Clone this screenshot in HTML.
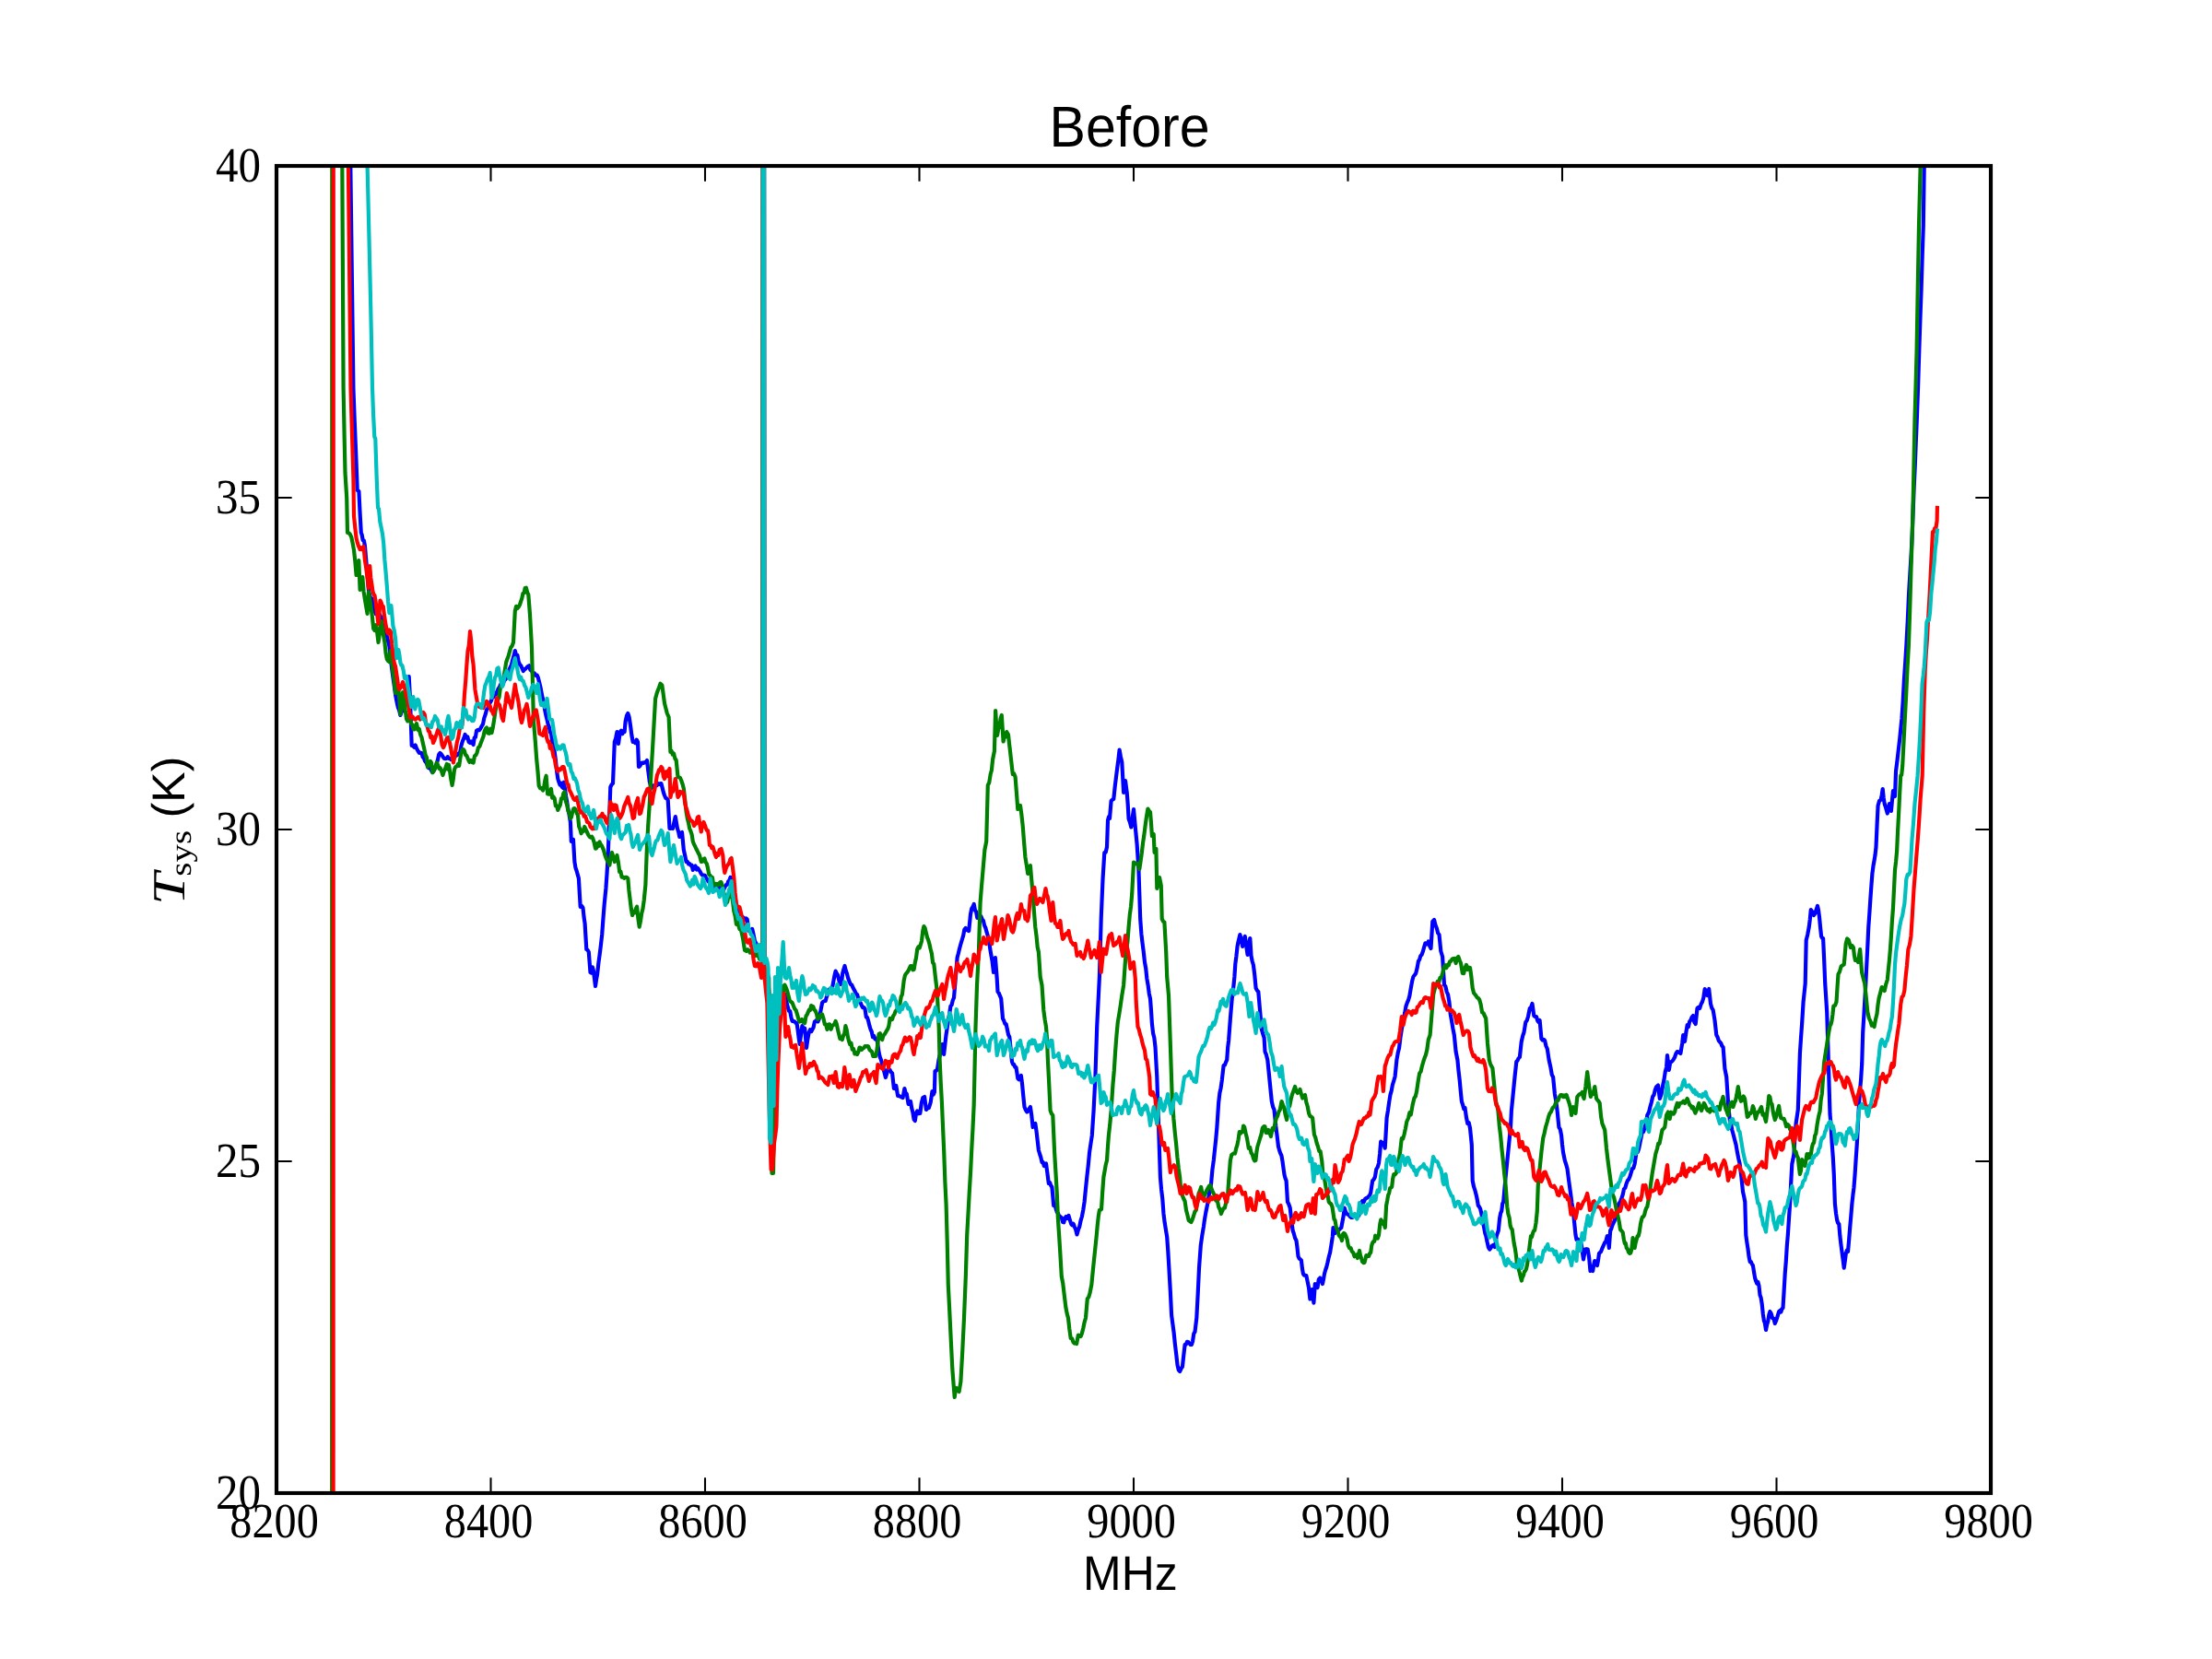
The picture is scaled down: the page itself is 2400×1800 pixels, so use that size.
<!DOCTYPE html>
<html><head><meta charset="utf-8"><style>
html,body{margin:0;padding:0;background:#fff;-webkit-font-smoothing:antialiased;}
text{text-rendering:geometricPrecision;}
body{width:2400px;height:1800px;overflow:hidden;}
svg{display:block;}
.serif{font-family:"Liberation Serif",serif;}
.sans{font-family:"Liberation Sans",sans-serif;}
</style></head><body>
<svg width="2400" height="1800" viewBox="0 0 2400 1800">
<rect x="0" y="0" width="2400" height="1800" fill="#fff"/>
<defs><clipPath id="ax"><rect x="300" y="180" width="1860" height="1440"/></clipPath></defs>

<g clip-path="url(#ax)" fill="none" stroke-width="4.17" stroke-linejoin="round" stroke-linecap="square">
<polyline stroke="#0000ff" points="361.0,1700.0 361.2,100.0 380.2,100.0 380.3,180.0 383.4,421.0 384.8,458.7 386.3,494.9 387.7,532.0 389.4,533.0 390.6,557.2 391.8,578.0 392.6,580.0 393.7,586.0 394.8,586.4 395.9,592.0 397.2,607.6 398.6,622.7 399.9,640.0 401.2,646.3 402.5,649.4 403.9,649.5 405.2,657.1 406.5,663.0 407.8,666.1 409.2,665.5 410.5,666.3 411.8,666.6 413.2,669.4 414.5,670.0 415.8,676.1 417.1,679.6 418.4,686.3 419.8,690.5 421.1,695.7 422.4,701.0 423.7,712.8 425.1,725.1 426.4,734.8 427.8,744.2 429.1,754.0 430.4,760.9 431.8,767.4 433.1,770.5 434.4,776.0 435.8,772.0 437.2,771.4 438.6,769.6 440.0,765.0 441.2,756.1 442.5,744.3 443.7,734.0 445.0,759.0 446.7,809.0 448.0,808.9 449.4,810.7 450.7,808.5 452.0,812.0 453.4,814.6 454.8,816.8 456.1,816.7 457.5,817.0 458.7,821.4 459.9,822.6 461.1,825.9 462.4,827.3 463.6,829.9 464.8,833.0 466.1,833.5 467.4,834.4 468.7,837.3 470.0,837.0 471.2,835.4 472.5,831.6 473.7,828.7 474.9,824.6 476.2,818.5 477.4,817.0 478.5,817.9 479.7,819.7 480.9,821.5 482.0,823.0 483.2,823.2 484.5,822.9 485.7,821.1 486.9,822.9 488.2,823.0 489.4,824.1 490.7,822.2 491.9,822.0 493.1,822.2 494.3,819.7 495.4,819.7 496.6,818.8 497.8,817.2 499.0,817.0 500.4,809.3 501.8,804.4 503.2,801.2 504.6,797.0 506.0,800.6 507.3,799.4 508.6,805.1 510.0,806.0 511.2,804.5 512.4,805.9 513.6,808.0 514.7,800.4 515.9,799.9 517.0,793.0 518.4,791.9 519.8,792.3 521.2,790.6 522.6,788.0 524.0,785.6 525.3,779.1 526.6,775.4 528.0,770.0 529.3,768.5 530.6,764.5 531.9,762.0 533.1,760.2 534.4,754.3 535.7,756.0 537.0,752.0 538.2,753.3 539.4,750.3 540.6,747.2 541.9,745.6 543.1,742.7 544.3,744.0 545.7,742.1 547.0,738.6 548.4,737.1 549.8,735.0 551.1,731.3 552.4,726.6 553.7,723.9 555.0,721.0 556.3,715.6 557.5,711.7 558.8,706.0 560.1,711.0 561.4,710.9 562.7,718.2 564.0,721.0 565.3,722.4 566.5,725.2 567.8,728.0 569.1,726.4 570.4,725.5 571.7,724.0 573.0,723.0 574.1,722.3 575.3,726.8 576.4,726.5 577.6,729.5 578.7,732.0 580.0,730.5 581.4,732.8 582.7,732.5 583.9,735.4 585.1,740.3 586.3,745.0 587.5,751.4 588.7,757.3 590.0,762.0 591.2,770.4 592.4,776.3 593.6,781.0 594.7,786.0 595.8,788.8 596.9,794.4 598.0,796.0 599.2,804.2 600.5,808.6 601.7,816.0 602.9,824.7 604.1,836.6 605.3,845.0 606.4,848.6 607.5,851.5 608.7,849.6 609.8,854.0 610.9,854.9 611.9,848.7 613.0,856.0 614.1,864.0 615.1,869.6 616.2,877.0 617.5,883.4 618.9,892.0 619.8,913.0 620.9,911.4 622.0,911.0 623.4,935.0 624.5,941.6 625.6,944.8 626.8,949.1 627.9,953.0 629.7,984.0 631.1,982.9 632.5,985.0 633.5,994.6 634.6,1002.0 636.3,1030.0 637.5,1030.7 638.8,1033.0 640.5,1055.0 641.6,1055.6 642.8,1049.3 643.9,1053.0 645.0,1062.0 646.0,1070.0 647.0,1062.9 648.1,1057.0 649.4,1044.8 650.6,1036.0 651.9,1025.5 653.2,1014.0 654.5,996.1 655.7,981.0 657.4,964.0 658.5,948.2 659.6,931.0 661.0,892.3 662.3,854.0 663.6,851.3 665.0,850.0 666.8,805.0 668.1,801.2 669.5,794.0 671.0,807.0 672.0,799.8 673.0,794.0 674.1,792.6 675.3,796.2 676.5,793.2 677.6,794.0 678.6,783.0 680.0,776.4 681.3,774.0 682.6,777.9 684.0,787.0 685.4,798.0 686.7,805.0 688.0,804.9 689.4,806.2 690.7,802.6 692.0,805.0 693.0,832.0 694.5,830.8 696.0,828.0 697.1,827.5 698.2,828.0 699.3,827.0 700.6,827.2 702.0,825.0 703.4,837.3 704.8,848.0 706.6,855.0 707.8,854.6 709.0,852.4 710.2,852.2 711.4,851.8 712.6,852.2 713.8,850.0 715.0,851.0 716.2,850.3 717.4,850.0 718.6,854.6 719.8,859.5 721.0,863.0 722.2,865.8 723.5,866.4 724.7,868.0 726.5,899.0 727.7,898.9 728.8,898.3 730.0,899.0 731.4,892.2 732.8,886.0 733.9,892.7 735.0,899.0 736.1,902.4 737.3,908.0 738.6,903.8 740.0,903.0 741.8,922.0 743.2,928.3 744.6,935.0 745.8,934.8 747.0,937.4 748.2,937.0 749.4,938.9 750.6,938.7 751.8,944.0 753.1,941.1 754.5,939.5 755.9,943.5 757.2,942.0 758.4,943.8 759.6,945.6 760.8,948.0 762.2,949.8 763.5,949.5 764.9,949.7 766.3,953.0 767.4,954.0 768.6,956.6 769.7,956.8 770.9,957.6 772.0,958.0 773.2,959.9 774.4,960.3 775.6,962.6 776.8,962.2 778.0,962.0 779.2,966.0 780.4,962.9 781.6,964.3 782.8,964.2 784.0,965.0 785.2,965.5 786.5,962.4 787.8,960.0 789.0,960.0 790.1,956.4 791.3,955.5 792.5,951.8 793.6,952.0 794.9,960.5 796.1,965.8 797.4,973.6 798.6,980.6 799.9,988.0 801.1,991.6 802.3,992.2 803.5,997.0 804.7,996.9 805.9,995.0 807.1,996.0 808.3,998.0 809.5,996.4 810.7,997.5 812.5,1010.0 813.7,1009.3 815.0,1011.5 816.2,1008.0 817.5,1013.7 818.9,1021.0 820.3,1023.6 821.6,1028.3 823.0,1030.0 824.4,1028.2 825.9,1027.4 827.3,1025.0 827.8,100.0 829.0,100.0 829.4,1040.0 830.7,1041.5 832.0,1045.0 833.2,1058.7 834.5,1080.0 836.2,1250.0 837.2,1249.0 838.2,1250.0 839.4,1199.4 840.5,1150.0 841.8,1125.9 843.0,1100.0 844.3,1094.1 845.7,1089.7 847.0,1085.0 848.5,1083.8 850.0,1082.0 851.1,1078.5 852.3,1079.0 853.3,1087.0 854.6,1092.0 856.0,1097.0 857.2,1097.1 858.4,1103.7 859.6,1108.0 861.0,1108.1 862.3,1108.5 863.4,1109.8 864.5,1110.0 865.6,1117.5 866.6,1125.6 867.7,1133.0 869.0,1123.1 870.4,1113.0 871.8,1116.1 873.2,1115.7 875.0,1137.0 876.3,1127.8 877.6,1120.5 879.0,1117.2 880.4,1119.0 881.5,1116.9 882.6,1114.7 883.8,1108.8 884.9,1108.0 886.1,1106.6 887.3,1108.5 888.5,1106.0 889.7,1100.4 890.9,1094.1 892.1,1088.0 893.3,1086.7 894.5,1086.0 895.7,1086.0 896.9,1081.5 898.1,1078.6 899.3,1073.5 900.5,1073.4 901.8,1072.2 903.0,1071.7 904.2,1065.3 905.4,1058.8 906.6,1053.6 907.8,1056.3 909.0,1058.0 910.5,1064.5 912.0,1068.0 913.1,1065.8 914.2,1056.1 915.4,1051.6 916.5,1048.0 917.7,1052.9 918.9,1056.3 920.1,1061.0 921.5,1064.9 922.9,1068.0 924.1,1068.4 925.3,1071.2 926.5,1073.5 927.7,1075.7 928.9,1078.4 930.1,1079.0 931.3,1083.5 932.5,1086.6 933.7,1088.0 934.9,1091.0 936.1,1093.2 937.3,1093.0 938.5,1094.7 939.8,1103.5 941.0,1104.0 942.2,1107.9 943.4,1112.9 944.6,1117.0 945.8,1119.5 947.0,1125.2 948.2,1124.0 949.4,1127.3 950.6,1127.4 951.8,1129.5 953.6,1142.0 954.8,1147.0 956.0,1150.0 957.2,1155.0 958.2,1157.2 959.1,1162.0 960.9,1169.0 962.1,1165.0 963.3,1160.0 964.5,1160.4 965.7,1161.1 966.9,1163.4 968.1,1164.5 969.9,1181.0 971.1,1181.2 972.3,1178.0 974.1,1189.0 975.7,1189.2 977.2,1190.0 978.4,1190.6 979.6,1191.0 981.4,1181.0 982.6,1185.8 983.8,1187.0 985.6,1198.0 986.8,1195.9 988.0,1195.0 989.2,1202.4 990.4,1207.0 991.6,1214.4 992.8,1216.0 994.0,1208.0 995.2,1205.5 996.8,1208.3 998.3,1208.0 999.8,1196.7 1001.3,1191.0 1003.1,1190.0 1004.9,1204.0 1006.4,1202.4 1007.9,1202.0 1009.7,1196.0 1011.5,1184.0 1012.7,1187.6 1013.9,1185.0 1014.5,1162.0 1015.8,1161.8 1017.0,1160.0 1018.5,1150.0 1019.8,1144.5 1021.0,1140.2 1022.3,1133.0 1024.1,1144.0 1025.3,1133.6 1026.5,1123.1 1027.7,1115.0 1028.9,1106.5 1030.2,1099.6 1031.4,1091.6 1032.6,1090.3 1033.8,1085.3 1035.0,1082.5 1036.8,1061.0 1038.6,1039.0 1039.8,1034.5 1041.0,1029.5 1042.2,1025.0 1044.0,1019.0 1045.2,1014.9 1046.4,1008.5 1047.6,1007.0 1048.8,1008.9 1050.0,1009.5 1051.2,1010.0 1053.0,992.0 1054.2,986.0 1055.5,984.0 1056.7,981.0 1057.9,987.5 1059.1,989.2 1060.3,996.0 1061.7,993.8 1063.0,996.8 1064.3,994.1 1065.7,997.5 1066.9,998.9 1068.1,1004.1 1069.3,1006.6 1070.5,1011.2 1071.8,1015.4 1073.0,1021.0 1074.5,1031.0 1075.5,1036.9 1076.6,1043.0 1078.0,1055.0 1079.0,1047.9 1079.9,1039.0 1081.7,1062.0 1082.5,1076.0 1083.7,1077.4 1085.0,1080.5 1086.2,1083.5 1088.0,1105.0 1089.2,1107.4 1090.4,1110.9 1091.6,1111.0 1092.8,1116.5 1094.1,1122.8 1095.3,1125.0 1096.7,1139.1 1098.0,1152.0 1099.1,1154.8 1100.2,1154.9 1101.4,1158.0 1102.5,1158.0 1104.3,1170.0 1105.5,1171.2 1106.7,1169.8 1107.9,1167.0 1109.1,1176.5 1110.3,1189.3 1111.5,1201.0 1112.8,1204.2 1114.2,1206.5 1115.4,1205.6 1116.7,1202.9 1117.9,1201.0 1119.2,1209.8 1120.6,1223.0 1121.9,1220.0 1123.3,1219.0 1124.5,1227.2 1125.7,1237.6 1126.9,1248.0 1128.1,1252.0 1129.3,1255.7 1130.5,1261.0 1131.6,1260.9 1132.8,1265.0 1133.9,1263.3 1135.0,1262.5 1136.4,1273.0 1137.8,1284.0 1139.0,1283.0 1140.2,1286.3 1141.4,1288.0 1143.2,1308.0 1144.4,1306.4 1145.6,1311.3 1146.8,1315.0 1148.0,1316.6 1149.2,1319.3 1150.4,1320.0 1151.8,1321.3 1153.1,1326.0 1154.3,1326.3 1155.5,1321.3 1156.7,1320.0 1158.1,1322.1 1159.5,1319.0 1160.8,1323.5 1162.2,1328.0 1163.4,1329.3 1164.6,1327.8 1165.8,1331.0 1167.2,1334.2 1168.5,1339.4 1169.8,1334.6 1171.2,1331.0 1172.6,1324.3 1173.9,1320.0 1175.2,1313.1 1176.6,1304.0 1177.9,1290.7 1179.3,1277.0 1180.7,1264.8 1182.1,1250.0 1183.4,1241.3 1184.8,1232.0 1186.6,1205.0 1188.4,1168.5 1190.2,1114.0 1192.0,1078.0 1192.9,1060.0 1194.7,997.0 1196.5,954.0 1198.3,925.0 1199.7,924.7 1201.0,919.0 1202.0,890.0 1203.0,886.2 1204.0,888.0 1205.6,869.0 1206.9,867.7 1208.3,867.0 1209.7,853.4 1211.0,843.0 1212.2,833.3 1213.4,824.3 1214.6,813.5 1215.9,820.9 1217.3,827.0 1219.1,860.0 1220.0,854.4 1221.0,847.0 1222.7,860.0 1223.7,872.6 1224.6,888.5 1225.9,892.0 1227.3,897.5 1228.7,887.4 1230.0,878.0 1231.8,897.5 1233.6,916.0 1235.4,943.0 1237.2,997.0 1238.4,1013.4 1239.6,1023.8 1240.8,1033.0 1242.0,1044.0 1243.2,1050.5 1244.4,1062.0 1245.6,1068.8 1246.8,1078.1 1248.0,1083.5 1249.0,1096.6 1249.9,1110.6 1251.1,1121.1 1252.3,1125.7 1253.5,1136.0 1255.3,1168.5 1257.1,1223.0 1258.9,1277.0 1260.1,1290.9 1261.3,1300.8 1262.5,1317.0 1263.7,1326.7 1265.0,1334.9 1266.2,1342.0 1267.3,1357.4 1268.4,1376.0 1269.8,1400.6 1271.1,1427.0 1272.3,1436.1 1273.6,1445.7 1274.8,1457.5 1276.2,1469.2 1277.5,1481.0 1278.8,1486.6 1280.2,1488.0 1281.6,1484.6 1282.9,1483.0 1284.2,1471.0 1285.6,1459.0 1286.8,1458.7 1288.0,1455.8 1289.2,1456.0 1290.4,1457.3 1291.6,1458.9 1292.8,1459.0 1294.0,1455.6 1295.3,1446.8 1296.5,1445.0 1298.3,1430.0 1299.7,1403.5 1301.0,1376.0 1302.8,1351.0 1304.3,1340.5 1305.9,1331.0 1307.1,1322.3 1308.3,1315.5 1309.5,1309.5 1310.7,1303.6 1311.8,1295.9 1312.9,1290.5 1314.1,1284.0 1315.4,1269.3 1316.8,1259.0 1318.0,1247.6 1319.2,1236.5 1320.4,1223.0 1322.2,1196.0 1323.4,1185.8 1324.6,1180.4 1325.8,1172.0 1327.6,1156.0 1328.8,1155.6 1330.0,1152.7 1331.2,1150.0 1332.2,1136.2 1333.1,1129.0 1334.9,1105.0 1336.7,1083.5 1338.1,1073.0 1339.4,1060.0 1340.3,1046.0 1341.4,1037.5 1342.5,1027.2 1343.6,1021.5 1345.4,1014.0 1346.8,1019.2 1348.1,1027.0 1349.4,1019.3 1350.8,1016.0 1352.2,1026.3 1353.6,1036.0 1354.9,1025.2 1356.3,1018.0 1357.5,1037.0 1358.7,1043.0 1359.9,1047.0 1361.2,1057.2 1362.6,1072.0 1363.9,1074.6 1365.3,1076.0 1367.1,1097.0 1368.9,1117.0 1370.2,1121.6 1371.6,1126.0 1372.5,1141.0 1373.9,1144.4 1375.3,1150.0 1376.7,1163.8 1378.0,1177.0 1379.8,1195.0 1381.2,1201.1 1382.5,1204.0 1384.3,1222.0 1385.7,1233.0 1387.0,1244.0 1388.1,1248.0 1389.2,1251.3 1390.4,1253.7 1391.5,1260.0 1392.5,1267.5 1393.6,1275.0 1394.6,1278.6 1395.6,1281.0 1397.0,1304.0 1398.3,1306.5 1399.7,1310.5 1400.7,1319.3 1401.7,1328.0 1402.7,1335.2 1403.7,1338.0 1405.1,1343.3 1406.5,1346.0 1407.5,1353.6 1408.5,1363.0 1409.6,1365.5 1410.8,1366.3 1411.9,1367.5 1412.9,1376.2 1413.9,1382.0 1415.0,1383.7 1416.2,1383.7 1417.3,1384.0 1418.7,1390.6 1420.0,1397.0 1421.4,1409.5 1422.4,1404.2 1423.4,1399.0 1424.4,1405.5 1425.4,1413.6 1426.8,1393.0 1428.2,1393.7 1429.5,1397.0 1430.8,1388.1 1432.2,1386.5 1433.6,1388.1 1434.9,1393.0 1436.0,1388.0 1437.0,1382.0 1438.1,1378.0 1439.3,1374.5 1440.4,1370.0 1441.8,1363.6 1443.1,1359.0 1444.4,1351.0 1445.8,1342.0 1446.5,1332.0 1447.5,1334.4 1448.5,1338.0 1449.8,1336.5 1451.2,1335.0 1452.6,1334.6 1453.9,1333.3 1455.3,1332.0 1456.6,1325.0 1457.7,1319.2 1458.7,1310.5 1459.7,1313.8 1460.7,1316.0 1462.1,1317.6 1463.4,1318.1 1464.8,1320.0 1466.2,1321.0 1467.5,1321.0 1468.8,1319.3 1470.2,1320.0 1471.6,1320.5 1472.9,1319.8 1474.3,1319.0 1475.7,1313.7 1477.0,1305.0 1478.3,1303.0 1479.7,1304.0 1481.1,1301.0 1482.4,1300.0 1483.8,1299.4 1485.1,1298.0 1486.2,1296.7 1487.2,1294.0 1488.2,1287.3 1489.2,1281.0 1490.6,1279.7 1491.9,1277.0 1493.3,1268.5 1494.7,1266.3 1496.0,1262.0 1497.1,1252.0 1498.2,1238.5 1500.0,1240.0 1501.3,1240.6 1502.7,1245.7 1503.7,1228.9 1504.6,1213.0 1505.9,1205.1 1507.3,1195.0 1508.5,1187.7 1509.7,1183.6 1510.9,1177.0 1512.2,1172.8 1513.6,1168.0 1515.4,1150.0 1516.8,1142.1 1518.1,1137.0 1519.4,1125.8 1520.8,1117.0 1522.0,1110.1 1523.1,1104.5 1524.2,1099.0 1525.4,1092.0 1526.8,1087.8 1528.1,1085.0 1529.4,1080.4 1530.8,1072.0 1532.2,1064.3 1533.5,1059.5 1534.8,1058.0 1536.2,1056.0 1537.6,1050.3 1538.9,1043.0 1540.1,1041.2 1541.3,1037.0 1542.5,1036.0 1543.9,1032.2 1545.3,1027.0 1546.4,1023.3 1547.5,1024.6 1548.7,1024.2 1549.8,1021.5 1551.2,1026.5 1552.5,1029.0 1554.3,1000.0 1556.1,998.0 1557.4,1003.6 1558.8,1007.0 1560.2,1012.5 1561.5,1014.0 1563.3,1032.0 1565.1,1038.0 1566.0,1053.6 1567.0,1068.5 1568.3,1070.0 1569.7,1076.0 1571.1,1079.3 1572.4,1087.0 1573.8,1100.8 1575.1,1108.0 1576.4,1115.9 1577.8,1123.0 1579.6,1141.0 1581.4,1150.0 1582.5,1161.6 1583.7,1171.9 1584.8,1184.1 1585.9,1195.0 1587.1,1198.6 1588.3,1203.2 1589.5,1202.0 1590.9,1212.0 1592.3,1219.0 1593.7,1218.1 1595.0,1224.0 1596.8,1242.0 1597.7,1281.0 1599.1,1287.7 1600.4,1291.6 1601.8,1297.0 1602.8,1301.8 1603.8,1308.0 1604.9,1309.2 1606.1,1311.4 1607.2,1316.0 1608.2,1320.9 1609.2,1327.0 1610.2,1332.1 1611.3,1338.0 1612.4,1341.3 1613.6,1347.5 1614.9,1353.3 1616.3,1355.6 1617.7,1353.7 1619.0,1351.5 1620.3,1350.8 1621.7,1353.0 1622.7,1349.0 1623.7,1341.0 1624.8,1337.9 1625.8,1335.0 1627.1,1322.0 1628.2,1316.1 1629.2,1314.0 1630.2,1306.0 1631.2,1304.0 1632.4,1290.3 1633.6,1277.0 1635.4,1259.0 1637.2,1241.0 1639.0,1223.0 1639.9,1205.0 1641.7,1187.0 1643.5,1168.5 1645.3,1152.0 1646.5,1150.7 1647.7,1148.0 1648.9,1147.0 1650.7,1130.5 1652.1,1124.2 1653.5,1120.0 1655.3,1109.0 1656.7,1107.2 1658.0,1103.0 1659.8,1094.0 1661.2,1092.7 1662.5,1089.0 1664.3,1102.0 1665.7,1103.1 1667.0,1103.0 1668.2,1107.5 1669.4,1109.1 1670.6,1107.0 1672.4,1127.0 1673.6,1128.5 1674.9,1127.8 1676.1,1129.0 1677.4,1134.7 1678.8,1138.0 1680.6,1150.0 1682.4,1158.0 1683.8,1166.2 1685.1,1168.5 1686.9,1187.0 1688.2,1194.3 1689.6,1205.0 1691.4,1223.0 1692.8,1225.3 1694.1,1232.0 1695.0,1241.7 1696.0,1250.0 1697.8,1259.0 1699.2,1263.4 1700.5,1268.0 1702.3,1282.0 1704.1,1295.0 1705.4,1305.1 1706.8,1313.0 1708.6,1331.0 1709.5,1339.9 1710.5,1345.0 1711.9,1344.4 1713.3,1346.0 1714.7,1346.4 1716.0,1351.5 1717.0,1359.6 1718.0,1366.5 1719.0,1360.8 1720.0,1355.6 1721.3,1355.2 1722.7,1355.6 1724.1,1364.0 1725.5,1379.0 1726.8,1377.8 1728.2,1379.0 1729.2,1372.2 1730.2,1368.0 1731.6,1369.5 1732.9,1373.0 1734.0,1367.3 1735.0,1360.0 1736.0,1359.0 1737.0,1358.0 1738.3,1354.7 1739.7,1351.5 1741.1,1348.4 1742.4,1346.8 1743.8,1341.0 1744.8,1345.4 1745.8,1354.0 1747.2,1335.0 1748.2,1333.5 1749.2,1330.0 1750.6,1326.8 1751.9,1324.0 1752.9,1318.4 1753.9,1314.0 1755.0,1311.6 1756.2,1306.5 1757.3,1305.0 1758.3,1302.8 1759.4,1300.0 1760.7,1296.3 1762.0,1290.0 1763.3,1288.9 1764.7,1284.0 1765.9,1281.0 1767.1,1279.7 1768.3,1277.0 1769.7,1272.4 1771.0,1268.0 1772.3,1267.3 1773.7,1262.5 1775.5,1250.0 1776.8,1250.1 1778.2,1246.0 1780.0,1237.0 1781.8,1228.0 1783.2,1228.0 1784.6,1223.0 1785.9,1219.2 1787.3,1210.0 1789.1,1206.5 1790.4,1201.0 1791.8,1196.0 1793.2,1189.8 1794.5,1188.0 1795.8,1182.6 1797.2,1179.0 1799.0,1177.5 1800.8,1192.0 1802.6,1187.0 1804.0,1178.5 1805.4,1172.0 1806.8,1162.7 1808.1,1158.0 1809.0,1145.0 1810.8,1161.0 1812.2,1153.0 1813.5,1152.0 1814.7,1151.0 1815.9,1149.1 1817.1,1147.0 1818.4,1143.1 1819.8,1141.0 1821.0,1141.3 1822.2,1142.3 1823.4,1143.0 1825.2,1132.0 1826.2,1123.0 1828.0,1130.0 1829.3,1120.6 1830.7,1112.0 1831.9,1114.2 1833.1,1108.6 1834.3,1107.0 1835.7,1103.5 1837.0,1102.0 1838.3,1108.9 1839.7,1111.0 1841.5,1094.0 1842.8,1092.8 1844.2,1094.0 1845.6,1089.5 1847.0,1087.0 1848.3,1082.5 1849.7,1073.0 1851.1,1076.4 1852.4,1080.0 1854.2,1073.0 1856.0,1089.0 1857.3,1093.7 1858.7,1096.0 1860.5,1107.0 1862.3,1123.0 1863.5,1125.1 1864.8,1129.1 1866.0,1130.5 1867.2,1131.8 1868.4,1135.0 1869.6,1136.0 1871.4,1159.5 1873.2,1168.5 1875.0,1196.0 1876.0,1207.1 1876.9,1215.5 1878.1,1219.4 1879.2,1225.7 1880.4,1230.0 1882.2,1237.0 1883.6,1242.3 1884.9,1250.0 1886.2,1256.7 1887.6,1262.5 1889.4,1277.0 1891.0,1293.0 1892.2,1298.2 1893.3,1304.0 1894.3,1340.0 1895.4,1348.0 1896.5,1355.0 1897.6,1363.7 1898.7,1369.0 1899.8,1369.0 1900.8,1371.4 1901.9,1373.0 1903.0,1379.9 1904.1,1386.5 1905.2,1390.0 1906.3,1392.7 1907.4,1391.0 1908.5,1395.3 1909.5,1405.0 1910.6,1408.0 1911.7,1414.8 1912.8,1425.5 1913.9,1433.0 1914.9,1435.6 1916.0,1443.0 1917.1,1437.3 1918.2,1433.9 1919.3,1426.7 1920.4,1423.0 1921.8,1425.6 1923.1,1430.1 1924.5,1430.7 1925.8,1436.0 1927.2,1432.7 1928.7,1427.8 1930.1,1423.0 1931.2,1422.0 1932.3,1423.6 1933.4,1420.2 1934.5,1419.0 1935.6,1401.0 1936.7,1382.0 1937.8,1368.4 1938.8,1352.2 1939.9,1339.0 1941.0,1321.9 1942.1,1306.0 1943.2,1283.8 1944.3,1263.0 1945.3,1258.3 1946.4,1252.0 1947.5,1232.7 1948.6,1219.0 1949.7,1211.6 1950.8,1204.0 1951.8,1175.9 1952.9,1143.0 1954.0,1126.4 1955.1,1111.0 1956.6,1087.0 1957.7,1076.6 1958.7,1067.0 1959.7,1020.0 1961.2,1014.2 1962.8,1005.5 1963.8,997.4 1964.8,987.0 1966.3,989.4 1967.9,993.0 1969.3,991.0 1970.6,987.1 1972.0,983.0 1973.0,987.4 1974.0,995.0 1975.0,1005.7 1976.1,1016.0 1977.1,1017.8 1978.1,1018.0 1979.2,1042.2 1980.2,1067.0 1981.2,1082.2 1982.2,1098.0 1983.3,1132.6 1984.4,1172.1 1985.5,1208.5 1986.6,1221.8 1987.7,1241.0 1988.8,1256.0 1989.8,1274.0 1990.9,1306.0 1992.0,1316.2 1993.1,1323.5 1994.2,1327.0 1995.3,1328.0 1996.3,1340.3 1997.4,1350.0 1998.5,1358.2 1999.6,1366.6 2000.7,1375.6 2001.8,1368.1 2002.8,1360.0 2003.9,1356.7 2005.0,1358.0 2006.1,1345.7 2007.2,1332.0 2008.3,1319.4 2009.4,1306.0 2010.5,1295.9 2011.5,1288.2 2012.6,1274.0 2013.7,1256.9 2014.8,1241.0 2015.9,1220.3 2017.0,1198.0 2018.1,1182.1 2019.1,1171.3 2020.2,1154.0 2021.2,1120.0 2022.2,1104.1 2023.2,1087.0 2024.2,1069.5 2025.3,1046.5 2026.3,1026.9 2027.3,1005.5 2028.3,991.8 2029.4,975.0 2030.4,960.8 2031.4,948.0 2032.5,939.4 2033.5,934.0 2034.5,927.9 2035.5,919.0 2036.5,896.4 2037.6,874.0 2039.1,868.8 2040.6,868.0 2041.7,862.9 2042.7,856.0 2043.7,865.8 2044.7,872.0 2046.2,876.7 2047.8,882.5 2048.8,878.8 2049.9,872.0 2050.9,873.6 2051.9,880.0 2052.9,869.0 2054.0,858.0 2055.0,860.9 2056.0,864.0 2057.0,837.0 2058.6,824.3 2060.1,811.0 2061.2,801.8 2062.3,790.5 2063.4,780.0 2064.7,761.0 2065.9,737.8 2067.2,719.1 2068.4,700.0 2069.8,673.4 2071.1,643.9 2072.5,620.0 2073.7,600.5 2074.8,578.0 2076.6,530.0 2077.7,506.6 2078.7,480.9 2079.8,455.0 2081.1,418.7 2082.3,380.0 2083.4,346.6 2084.6,314.0 2085.7,277.7 2086.8,245.0 2087.7,182.0 2088.5,100.0"/>
<polyline stroke="#008000" points="360.2,1700.0 360.3,100.0 371.2,100.0 371.3,180.0 372.6,421.0 373.6,471.5 374.5,513.0 376.2,540.0 377.0,578.0 378.5,578.3 380.0,580.0 381.3,582.9 382.7,589.7 384.0,597.0 385.3,608.8 386.6,624.0 388.0,616.4 389.3,608.0 390.6,640.0 392.0,636.4 393.3,626.0 394.6,642.0 395.9,650.2 397.3,658.5 398.6,666.0 399.9,642.0 401.2,650.0 402.5,658.5 403.9,669.3 405.2,682.0 406.6,684.1 408.0,678.0 409.2,686.2 410.5,697.0 411.6,689.4 412.7,680.5 413.8,674.0 415.0,682.4 416.2,690.2 417.4,696.9 418.6,708.6 419.8,715.0 421.1,717.0 422.4,718.0 423.8,706.0 425.1,718.1 426.5,730.3 427.8,739.2 429.1,752.0 430.6,750.9 432.0,745.0 433.2,757.3 434.4,775.0 435.7,766.9 437.0,751.0 438.3,756.0 439.7,770.2 441.0,780.0 442.3,782.4 443.7,776.1 445.0,780.5 446.2,785.2 447.3,786.3 448.5,791.0 449.7,791.4 450.8,787.4 452.0,785.0 453.4,791.8 454.8,791.0 456.1,796.9 457.5,800.0 458.9,806.5 460.2,812.2 461.6,819.2 463.0,822.0 463.9,832.0 465.4,828.4 467.0,826.0 468.1,827.6 469.3,838.3 470.4,837.0 471.5,834.6 472.7,831.8 473.8,827.5 475.1,830.0 476.4,833.9 477.7,833.4 479.0,836.6 480.5,841.0 481.9,836.4 483.3,833.5 484.7,829.0 485.8,834.7 486.9,829.8 488.0,836.0 489.3,845.4 490.6,852.0 491.8,845.1 493.0,835.0 494.3,832.0 495.7,831.3 497.0,829.0 498.1,830.9 499.3,823.1 500.4,817.0 501.6,813.4 502.7,813.0 503.9,814.7 505.0,819.0 506.5,820.2 508.0,824.0 509.4,826.8 510.8,825.0 512.2,827.0 513.6,827.5 515.0,820.1 516.3,819.2 517.6,816.6 519.0,811.0 520.4,809.8 521.8,805.9 523.1,802.6 524.5,799.0 525.7,793.3 526.8,790.7 528.0,789.5 529.4,795.5 530.8,795.8 532.1,790.7 533.5,795.0 534.9,788.7 536.2,780.5 537.6,770.7 539.0,764.0 540.3,759.2 541.6,756.3 542.9,745.9 544.1,744.3 545.4,740.9 546.7,733.5 548.0,726.0 549.2,718.5 550.4,715.0 551.6,712.0 553.0,706.9 554.3,702.3 555.6,700.8 557.0,697.0 558.8,663.0 560.1,657.8 561.4,660.1 562.7,658.4 564.0,656.0 565.1,652.7 566.3,649.1 567.4,643.9 568.6,643.4 569.7,638.0 570.9,637.7 572.1,642.8 573.3,645.0 575.0,667.0 576.0,685.2 577.0,703.0 578.0,743.8 578.9,782.0 580.0,794.6 581.0,807.0 582.2,823.8 583.5,837.0 584.7,852.6 586.1,855.3 587.6,855.1 589.0,857.6 590.2,854.0 591.4,846.3 592.6,841.7 594.1,861.3 595.4,861.7 596.7,859.1 598.0,856.0 599.1,865.6 600.4,864.3 601.7,866.4 602.9,874.4 604.1,874.2 605.3,879.0 606.5,876.0 607.8,873.6 609.0,866.4 610.2,866.3 611.3,860.9 612.5,859.0 613.9,869.6 615.3,873.6 616.5,880.0 617.7,882.1 618.9,888.0 620.0,886.7 621.1,881.1 622.3,877.4 623.4,877.0 624.6,878.6 625.8,882.5 627.0,884.4 628.2,896.7 629.4,899.7 630.6,904.3 631.8,900.8 633.0,901.7 634.2,897.0 635.6,900.0 637.0,903.0 638.3,905.8 639.7,908.0 640.9,908.6 642.1,907.7 643.3,909.8 644.6,913.9 646.0,920.6 647.1,920.4 648.2,915.1 649.4,918.0 650.5,913.4 651.6,916.0 652.8,917.3 653.9,919.8 655.0,922.4 656.4,927.8 657.8,931.5 659.0,934.3 660.2,934.2 661.4,938.7 662.7,929.4 664.0,925.0 665.4,929.8 666.8,935.0 668.1,932.4 669.5,928.0 670.9,935.8 672.2,946.0 673.4,945.6 674.6,951.6 675.8,951.4 677.2,952.9 678.5,951.9 679.9,951.8 681.3,953.0 682.4,965.9 683.5,975.0 684.8,986.0 686.1,993.0 687.4,989.1 688.6,990.4 689.9,985.9 691.1,983.6 692.4,996.6 693.7,1005.6 695.0,999.1 696.2,991.0 697.5,985.8 698.7,977.0 700.4,960.0 702.0,917.0 703.4,892.7 704.8,872.0 706.6,836.0 708.0,813.1 709.3,790.0 711.1,758.0 712.5,752.7 713.8,749.0 715.1,745.7 716.5,741.6 718.3,743.4 719.6,752.5 721.0,763.0 722.4,768.4 723.8,774.0 725.6,778.0 727.4,816.0 728.6,814.8 729.8,818.5 731.0,817.5 732.4,823.0 733.7,825.0 735.5,843.0 736.7,843.3 737.9,843.9 739.1,846.5 740.5,850.5 741.8,855.5 743.2,867.9 744.6,881.0 745.8,887.9 747.0,892.7 748.2,899.0 749.4,901.8 750.6,905.4 751.8,913.0 753.0,916.1 754.2,918.3 755.4,921.0 756.6,923.3 757.8,925.7 759.0,928.0 760.8,935.0 762.0,934.7 763.2,932.3 764.4,931.5 765.6,935.3 766.8,937.1 768.0,942.0 769.2,948.7 770.5,949.9 771.7,953.0 772.9,952.0 774.1,960.4 775.3,958.6 776.5,959.4 777.8,958.9 779.0,960.4 780.2,958.7 781.3,957.3 782.5,957.0 783.9,962.0 785.2,968.6 786.6,972.3 788.0,980.0 789.2,978.6 790.4,971.8 791.5,970.0 792.7,963.0 793.9,972.0 795.1,978.4 796.3,988.5 797.6,993.7 799.0,1003.0 800.1,1000.0 801.2,1004.0 802.4,1008.0 803.5,1006.6 804.9,1012.9 806.2,1019.0 808.0,1031.0 809.8,1032.0 811.2,1030.2 812.6,1031.0 813.7,1033.7 814.8,1031.8 815.9,1033.8 817.0,1033.0 818.1,1034.7 819.3,1037.0 820.5,1035.4 821.6,1037.0 822.8,1035.0 824.0,1040.6 825.2,1039.0 826.2,1042.4 827.1,1045.0 827.6,100.0 828.8,100.0 829.3,1048.0 830.6,1049.6 832.0,1052.0 833.1,1058.3 834.2,1061.0 836.0,1200.0 837.5,1273.0 839.0,1273.0 840.0,1211.8 841.0,1150.0 842.0,1124.6 843.0,1100.0 844.5,1089.2 846.0,1080.0 847.5,1077.1 849.0,1070.0 850.1,1075.1 851.3,1068.5 852.4,1070.5 854.1,1075.0 855.5,1080.4 856.9,1085.7 858.2,1087.0 859.6,1088.0 861.0,1091.6 862.3,1094.7 863.6,1096.1 865.0,1100.6 866.4,1105.7 867.8,1108.5 868.9,1107.0 870.0,1106.0 871.1,1108.8 872.1,1107.7 873.2,1110.0 874.5,1102.5 875.8,1100.6 876.9,1097.9 877.9,1095.7 879.0,1096.0 880.1,1091.0 881.1,1094.2 882.2,1092.0 883.5,1095.7 884.7,1096.7 886.0,1100.1 887.2,1105.8 888.5,1104.0 889.7,1103.5 890.9,1100.7 892.1,1100.6 893.5,1105.1 894.8,1111.3 896.1,1111.3 897.5,1117.0 898.9,1111.6 900.2,1111.3 901.6,1116.8 903.0,1113.0 904.2,1112.3 905.4,1110.7 906.6,1108.0 907.8,1111.2 909.0,1117.1 910.2,1122.0 911.4,1127.0 912.6,1127.1 913.8,1128.0 915.0,1123.6 916.2,1121.5 917.4,1113.0 918.6,1117.1 919.8,1124.5 921.0,1129.5 922.2,1133.2 923.5,1131.8 924.7,1138.6 926.1,1138.1 927.4,1143.5 928.8,1142.1 930.1,1144.0 931.3,1141.4 932.5,1136.5 933.7,1137.0 934.9,1139.0 936.1,1137.6 937.3,1137.0 938.5,1135.1 939.8,1135.5 941.0,1135.0 942.2,1135.5 943.4,1138.9 944.6,1140.0 946.0,1141.1 947.3,1146.0 948.6,1145.7 950.0,1146.0 951.2,1140.7 952.4,1131.7 953.6,1122.0 954.8,1121.1 956.0,1126.4 957.2,1128.0 958.4,1123.5 959.6,1122.4 960.8,1120.5 962.0,1118.2 963.2,1116.6 964.4,1113.0 965.6,1104.9 966.8,1106.4 968.0,1106.0 969.2,1102.2 970.5,1100.4 971.7,1097.0 972.9,1096.3 974.1,1092.6 975.3,1093.0 976.5,1089.0 977.7,1081.4 978.9,1079.0 980.7,1064.0 981.9,1058.4 983.1,1056.3 984.3,1055.0 985.5,1053.3 986.8,1050.5 988.0,1048.0 989.2,1048.0 990.4,1052.3 991.6,1052.0 992.8,1044.5 994.0,1039.2 995.2,1030.0 996.4,1027.5 997.6,1028.6 998.8,1025.0 1000.0,1021.1 1001.2,1010.2 1002.4,1005.0 1003.6,1006.9 1004.8,1012.0 1006.0,1017.0 1007.2,1019.9 1008.5,1024.5 1009.7,1030.0 1010.9,1034.6 1012.1,1044.4 1013.3,1046.0 1015.0,1061.0 1016.0,1069.6 1016.9,1079.0 1018.7,1115.0 1019.6,1150.0 1020.7,1174.3 1021.9,1196.2 1023.0,1222.0 1024.2,1248.8 1025.4,1282.9 1026.6,1307.0 1027.7,1346.7 1028.8,1394.0 1030.2,1421.3 1031.5,1448.5 1033.3,1485.0 1034.5,1500.7 1035.7,1516.0 1036.8,1508.0 1037.9,1506.0 1039.2,1508.8 1040.6,1510.0 1042.4,1499.0 1044.2,1467.0 1046.0,1430.0 1047.8,1385.0 1049.2,1340.0 1050.5,1316.6 1051.8,1292.6 1053.1,1271.0 1054.3,1245.8 1055.5,1223.8 1056.7,1198.0 1058.5,1115.0 1060.0,1069.0 1061.0,1050.2 1062.0,1030.0 1063.6,979.0 1065.1,960.4 1066.6,943.0 1068.4,922.0 1070.2,913.0 1071.8,852.0 1073.2,849.3 1074.7,840.0 1075.9,835.8 1077.1,824.0 1078.9,815.0 1080.1,771.0 1081.0,784.7 1082.0,798.0 1083.2,790.9 1084.4,788.2 1085.6,779.7 1086.8,776.0 1088.6,804.5 1089.8,798.6 1091.0,799.5 1092.2,794.0 1094.0,797.0 1095.0,806.7 1096.0,815.0 1097.4,827.6 1098.8,840.0 1100.2,839.5 1101.6,843.0 1102.9,859.7 1104.3,878.0 1105.7,875.8 1107.0,874.0 1108.3,883.3 1109.7,896.0 1111.1,914.0 1112.4,930.0 1113.8,938.5 1115.2,948.0 1116.6,944.2 1117.9,939.0 1119.2,954.7 1120.6,970.0 1121.9,988.4 1123.3,1006.0 1124.5,1015.2 1125.7,1027.7 1126.9,1033.0 1128.7,1060.0 1130.5,1069.0 1132.3,1096.0 1133.7,1106.5 1135.0,1114.0 1136.0,1127.1 1136.9,1150.0 1138.2,1175.3 1139.6,1205.0 1140.9,1208.3 1142.3,1210.0 1144.1,1250.0 1145.4,1271.5 1146.8,1295.0 1147.9,1322.1 1149.1,1340.0 1150.4,1361.0 1151.8,1385.0 1153.2,1392.0 1154.5,1403.0 1156.3,1418.0 1157.7,1425.4 1159.0,1430.0 1160.3,1441.8 1161.7,1452.0 1163.1,1452.3 1164.4,1456.0 1165.6,1457.5 1166.9,1456.9 1168.1,1458.0 1169.9,1448.5 1171.2,1449.7 1172.6,1450.0 1173.9,1446.8 1175.3,1441.0 1176.7,1434.3 1178.0,1430.0 1179.8,1409.0 1181.2,1407.4 1182.5,1403.0 1184.3,1394.0 1185.7,1379.7 1187.0,1367.0 1188.4,1353.5 1189.8,1340.0 1190.6,1331.0 1191.8,1319.6 1192.9,1313.0 1194.0,1312.6 1195.0,1312.0 1196.2,1293.0 1197.4,1277.0 1198.6,1270.5 1199.8,1263.5 1201.0,1259.0 1202.0,1243.6 1202.9,1232.0 1204.2,1220.6 1205.6,1205.0 1207.4,1177.5 1208.8,1161.5 1210.1,1141.0 1211.4,1124.2 1212.8,1109.0 1214.2,1100.9 1215.5,1092.5 1217.3,1080.0 1219.1,1069.0 1220.0,1056.2 1221.0,1042.0 1222.2,1029.7 1223.4,1021.6 1224.6,1006.0 1225.8,992.4 1227.0,983.7 1228.2,970.0 1230.0,935.5 1231.1,936.1 1232.2,937.5 1233.4,937.3 1234.5,937.0 1236.3,943.0 1237.5,934.9 1238.8,925.5 1240.0,915.0 1241.3,906.4 1242.6,896.0 1244.0,885.9 1245.4,877.6 1246.7,879.9 1248.0,881.0 1249.0,893.3 1249.9,907.0 1251.7,905.0 1252.6,925.0 1254.4,921.0 1255.3,964.0 1256.7,958.1 1258.0,952.0 1259.8,961.0 1260.7,997.0 1262.1,999.8 1263.4,1000.6 1265.2,1033.0 1266.2,1060.0 1268.0,1080.0 1269.8,1132.0 1271.6,1187.0 1273.4,1214.0 1274.8,1228.9 1276.1,1241.0 1277.4,1255.5 1278.8,1268.0 1280.2,1277.8 1281.5,1295.0 1282.8,1296.9 1284.2,1300.5 1285.6,1303.3 1287.0,1313.0 1288.3,1317.9 1289.7,1324.0 1291.1,1325.1 1292.4,1326.0 1293.8,1322.8 1295.1,1319.0 1296.4,1314.7 1297.8,1313.0 1299.2,1303.7 1300.5,1295.0 1301.8,1292.1 1303.2,1288.0 1305.0,1299.0 1306.3,1298.4 1307.7,1295.0 1309.1,1292.0 1310.5,1289.2 1311.8,1287.0 1313.2,1286.0 1314.4,1289.6 1315.6,1292.6 1316.8,1295.0 1318.0,1297.6 1319.2,1302.6 1320.4,1300.5 1322.2,1309.5 1323.6,1312.3 1324.9,1317.0 1326.2,1313.8 1327.6,1311.0 1328.8,1310.8 1330.0,1305.6 1331.2,1304.0 1332.2,1294.9 1333.1,1282.0 1334.9,1259.0 1336.2,1253.2 1337.6,1252.0 1338.8,1251.3 1340.0,1251.6 1341.2,1246.0 1342.4,1242.4 1343.6,1236.3 1344.8,1228.0 1345.9,1229.8 1347.0,1228.0 1348.1,1228.2 1349.1,1221.5 1350.2,1223.0 1351.6,1229.4 1353.0,1235.0 1354.8,1246.0 1356.2,1244.9 1357.6,1251.0 1358.8,1252.6 1360.0,1257.0 1361.2,1259.4 1362.4,1259.0 1363.4,1249.7 1364.4,1244.0 1365.8,1239.5 1367.1,1235.0 1368.4,1231.3 1369.8,1224.0 1371.6,1222.0 1372.5,1222.2 1373.5,1229.0 1374.8,1229.0 1376.2,1226.0 1377.6,1229.2 1378.9,1233.0 1380.7,1224.0 1382.1,1225.6 1383.4,1219.0 1384.8,1213.2 1386.1,1211.0 1387.4,1206.3 1388.8,1204.0 1390.6,1195.0 1391.9,1199.0 1393.3,1202.0 1394.7,1209.6 1396.1,1215.0 1397.9,1202.0 1399.2,1200.0 1400.6,1193.0 1401.9,1187.8 1403.3,1184.0 1405.1,1179.0 1406.4,1183.8 1407.8,1186.0 1409.2,1184.7 1410.5,1182.0 1411.8,1186.7 1413.2,1191.5 1414.6,1189.1 1416.0,1188.0 1417.3,1195.9 1418.7,1200.5 1420.1,1207.9 1421.4,1211.0 1422.8,1211.6 1424.1,1213.0 1425.9,1231.0 1427.2,1234.1 1428.6,1240.0 1429.9,1243.7 1431.3,1249.0 1432.6,1249.0 1434.3,1260.0 1435.6,1278.0 1436.7,1277.0 1437.7,1283.0 1438.7,1289.2 1439.7,1294.0 1440.7,1297.7 1441.7,1304.0 1443.1,1305.5 1444.4,1306.5 1445.5,1309.4 1446.5,1316.0 1447.5,1322.9 1448.5,1324.0 1449.9,1332.0 1451.2,1334.6 1452.6,1340.0 1453.7,1341.7 1454.9,1342.5 1456.0,1346.0 1457.0,1339.1 1458.0,1338.0 1459.3,1339.0 1460.7,1342.0 1461.7,1345.2 1462.7,1351.0 1464.1,1354.0 1465.5,1354.0 1466.8,1357.7 1468.2,1359.0 1469.6,1363.3 1470.9,1362.0 1471.9,1361.4 1472.9,1365.0 1474.0,1360.7 1475.0,1357.0 1476.0,1362.3 1477.0,1365.0 1478.1,1368.9 1479.3,1370.1 1480.4,1370.0 1481.4,1366.2 1482.4,1362.0 1483.8,1362.8 1485.1,1363.0 1486.2,1359.8 1487.2,1359.0 1488.2,1351.4 1489.2,1348.5 1490.2,1347.0 1491.2,1347.0 1492.2,1340.7 1493.3,1343.0 1494.7,1343.6 1496.0,1340.0 1497.3,1328.0 1498.3,1323.3 1499.4,1325.0 1500.4,1327.8 1501.4,1327.0 1502.8,1332.0 1504.1,1308.0 1505.1,1302.9 1506.1,1297.0 1507.2,1294.2 1508.2,1289.0 1509.2,1288.9 1510.2,1287.5 1511.2,1278.7 1512.3,1274.0 1513.7,1274.4 1515.0,1272.6 1516.0,1266.1 1517.0,1260.0 1518.0,1256.1 1519.0,1251.0 1520.8,1235.0 1522.2,1235.5 1523.5,1231.0 1524.9,1224.6 1526.3,1217.0 1528.1,1213.0 1529.4,1207.1 1530.8,1209.5 1532.6,1199.0 1534.4,1191.5 1535.8,1189.6 1537.1,1184.0 1538.9,1171.6 1540.2,1164.4 1541.6,1162.5 1542.9,1156.8 1544.3,1152.0 1545.7,1147.6 1547.0,1144.5 1548.4,1138.5 1549.8,1128.0 1551.6,1123.0 1553.4,1101.0 1555.2,1079.0 1557.0,1072.0 1558.3,1068.4 1559.7,1065.0 1561.1,1066.0 1562.4,1061.0 1563.8,1060.4 1565.1,1056.0 1566.9,1049.0 1568.1,1047.3 1569.4,1050.1 1570.6,1047.0 1571.8,1047.4 1573.0,1043.3 1574.2,1043.0 1575.6,1040.6 1576.9,1040.0 1578.2,1039.9 1579.6,1045.0 1580.9,1039.5 1582.3,1038.0 1583.7,1042.0 1585.0,1045.0 1586.8,1056.0 1588.2,1056.1 1589.5,1050.0 1590.9,1046.9 1592.3,1052.0 1593.7,1049.7 1595.0,1050.0 1596.3,1059.1 1597.7,1072.0 1599.1,1077.4 1600.4,1079.0 1601.6,1080.6 1602.8,1082.4 1604.0,1083.0 1605.3,1085.0 1606.7,1090.0 1608.1,1098.3 1609.4,1099.0 1610.8,1102.0 1612.2,1105.0 1614.0,1132.0 1615.8,1150.0 1617.0,1154.3 1618.2,1156.8 1619.4,1159.0 1621.2,1177.0 1623.0,1195.0 1624.2,1199.4 1625.4,1205.0 1626.8,1221.4 1628.1,1232.0 1629.4,1246.3 1630.8,1259.0 1632.2,1273.3 1633.6,1286.0 1635.3,1309.5 1636.4,1317.1 1637.6,1321.0 1638.7,1330.0 1639.7,1332.9 1640.7,1334.0 1641.7,1342.0 1642.7,1349.0 1643.8,1354.4 1644.8,1361.0 1645.8,1370.5 1646.8,1372.0 1647.8,1377.5 1648.8,1381.0 1649.8,1385.3 1650.9,1389.5 1651.9,1385.6 1652.9,1384.0 1653.9,1379.7 1654.9,1379.0 1656.0,1376.6 1657.0,1372.0 1658.0,1365.4 1659.0,1357.0 1660.0,1348.8 1661.0,1341.0 1662.0,1342.2 1663.1,1338.0 1664.1,1335.4 1665.1,1335.0 1666.5,1327.0 1667.8,1314.0 1668.8,1286.0 1670.6,1268.0 1672.4,1250.0 1674.2,1235.0 1675.6,1229.7 1677.0,1223.0 1678.8,1217.0 1680.2,1211.4 1681.5,1208.0 1682.8,1206.4 1684.2,1203.0 1685.4,1201.2 1686.6,1200.5 1687.8,1197.0 1689.2,1193.9 1690.5,1194.0 1691.8,1190.3 1693.2,1188.0 1694.6,1188.1 1696.0,1190.0 1697.2,1188.4 1698.4,1190.0 1699.6,1188.0 1700.9,1191.9 1702.3,1196.0 1703.7,1200.8 1705.0,1210.0 1706.8,1201.0 1708.2,1202.6 1709.5,1208.0 1711.3,1190.0 1712.7,1188.2 1714.0,1187.0 1715.3,1186.9 1716.7,1185.0 1717.7,1190.0 1718.6,1192.0 1720.4,1179.0 1722.2,1163.0 1724.0,1177.5 1725.8,1190.0 1727.2,1185.6 1728.5,1187.0 1730.3,1179.0 1732.1,1192.0 1733.3,1193.6 1734.5,1194.7 1735.7,1197.0 1737.1,1211.6 1738.4,1219.0 1739.8,1222.4 1741.2,1226.0 1743.0,1246.0 1744.3,1257.3 1745.7,1268.0 1747.5,1281.0 1749.3,1295.0 1751.1,1299.0 1752.4,1305.2 1753.8,1313.0 1754.9,1317.1 1756.0,1322.0 1757.0,1327.1 1758.0,1334.0 1759.3,1335.4 1760.7,1337.0 1761.8,1344.4 1762.8,1349.0 1763.8,1348.8 1764.8,1354.0 1765.9,1355.2 1767.1,1358.7 1768.2,1360.0 1769.2,1359.4 1770.2,1356.0 1771.6,1343.0 1772.6,1347.3 1773.6,1354.0 1774.6,1348.6 1775.6,1345.0 1776.7,1341.1 1777.7,1341.0 1778.8,1336.2 1780.0,1327.9 1781.1,1323.0 1782.1,1320.2 1783.1,1320.0 1784.1,1318.3 1785.1,1314.0 1786.2,1310.8 1787.2,1309.5 1788.2,1304.1 1789.2,1300.0 1790.9,1286.0 1792.7,1273.0 1794.5,1262.5 1796.3,1252.0 1798.1,1246.0 1799.3,1240.5 1800.5,1240.8 1801.7,1235.0 1803.5,1226.0 1804.9,1224.6 1806.3,1223.0 1808.1,1210.0 1809.9,1206.5 1811.7,1214.0 1813.1,1206.7 1814.4,1208.0 1815.8,1208.7 1817.1,1206.5 1818.4,1201.1 1819.8,1197.0 1821.2,1200.8 1822.5,1197.0 1823.9,1196.7 1825.2,1196.4 1826.6,1194.7 1828.0,1197.0 1829.3,1194.6 1830.7,1192.0 1832.1,1195.7 1833.4,1199.0 1834.6,1199.7 1835.8,1202.4 1837.0,1201.0 1838.2,1204.8 1839.4,1207.7 1840.6,1205.0 1841.9,1201.7 1843.3,1197.0 1844.7,1202.3 1846.1,1205.0 1847.4,1201.1 1848.8,1197.0 1850.2,1199.1 1851.5,1203.0 1852.7,1204.9 1853.9,1203.8 1855.1,1206.5 1856.3,1202.8 1857.5,1204.5 1858.7,1203.0 1859.9,1205.3 1861.1,1202.6 1862.3,1205.0 1863.5,1200.9 1864.8,1202.6 1866.0,1204.0 1867.2,1196.4 1868.3,1194.0 1869.5,1190.0 1870.9,1197.2 1872.3,1203.0 1873.7,1206.3 1875.0,1210.0 1876.3,1202.3 1877.7,1197.0 1879.1,1195.7 1880.4,1201.0 1881.8,1196.6 1883.1,1194.0 1884.4,1187.5 1885.8,1179.0 1887.6,1190.0 1888.9,1194.8 1890.3,1194.0 1891.7,1189.4 1893.1,1192.0 1894.4,1201.9 1895.8,1212.0 1897.0,1211.0 1898.2,1207.9 1899.4,1208.0 1900.6,1206.3 1901.8,1200.1 1903.0,1203.0 1904.8,1214.0 1906.2,1209.2 1907.5,1206.5 1908.7,1206.0 1909.9,1203.1 1911.1,1201.0 1912.5,1209.7 1913.9,1208.5 1915.0,1213.7 1916.0,1217.0 1917.1,1208.6 1918.2,1200.2 1919.3,1189.0 1920.4,1190.4 1921.5,1196.7 1922.6,1198.0 1923.7,1206.2 1924.7,1210.7 1925.8,1215.0 1927.2,1211.4 1928.7,1205.2 1930.1,1200.0 1931.2,1207.4 1932.3,1213.0 1933.4,1213.3 1934.5,1214.0 1935.6,1213.9 1936.7,1217.0 1938.1,1222.2 1939.6,1219.9 1941.0,1221.5 1942.1,1225.2 1943.2,1226.0 1944.3,1232.0 1945.4,1238.1 1946.4,1244.6 1947.5,1250.0 1948.6,1249.7 1949.7,1254.2 1950.8,1256.0 1951.8,1265.3 1952.9,1274.0 1954.0,1269.9 1955.1,1258.0 1956.2,1261.7 1957.3,1260.6 1958.4,1265.0 1959.5,1258.3 1960.5,1252.0 1961.6,1256.6 1962.7,1252.0 1963.8,1256.0 1964.9,1251.7 1965.9,1245.1 1967.0,1241.0 1968.1,1239.8 1969.2,1232.1 1970.3,1230.0 1971.4,1221.4 1972.5,1215.0 1973.5,1209.9 1974.6,1206.0 1975.7,1193.1 1976.8,1187.0 1977.9,1171.3 1979.0,1154.0 1980.1,1146.3 1981.1,1140.3 1982.2,1133.0 1983.3,1125.6 1984.4,1118.9 1985.5,1113.0 1986.5,1111.4 1987.4,1108.0 1988.4,1100.8 1989.4,1091.5 1991.0,1090.9 1992.5,1087.0 1993.5,1071.4 1994.5,1057.0 1996.0,1054.2 1997.6,1048.5 1999.2,1047.3 2000.7,1046.5 2001.7,1036.0 2002.7,1024.0 2004.2,1018.4 2005.8,1020.0 2006.8,1023.8 2007.9,1028.0 2009.4,1025.9 2010.9,1028.0 2012.0,1037.4 2013.0,1042.0 2014.5,1041.5 2016.0,1044.0 2017.0,1037.3 2018.1,1030.0 2019.1,1042.3 2020.1,1055.0 2021.7,1061.4 2023.2,1067.0 2024.8,1082.7 2026.3,1098.0 2027.8,1104.5 2029.4,1108.0 2030.8,1112.7 2032.1,1110.9 2033.5,1114.0 2035.0,1106.1 2036.5,1100.0 2037.5,1090.5 2038.6,1083.0 2040.2,1077.0 2041.7,1071.0 2043.2,1072.7 2044.7,1075.0 2046.2,1068.1 2047.8,1063.0 2048.8,1052.7 2049.9,1042.0 2050.9,1030.4 2051.9,1016.0 2052.9,999.4 2054.0,985.0 2055.0,964.4 2056.0,944.0 2057.1,934.4 2058.1,923.5 2059.1,901.4 2060.1,882.5 2061.1,862.0 2062.2,841.5 2063.2,840.8 2064.2,831.0 2065.5,805.2 2066.8,780.0 2068.2,753.0 2069.5,724.9 2070.9,700.0 2072.2,661.4 2073.4,620.0 2074.8,578.0 2076.0,530.0 2077.5,455.0 2078.6,418.0 2079.6,380.0 2080.8,310.9 2082.0,245.0 2083.6,182.0 2084.2,100.0"/>
<polyline stroke="#ff0000" points="361.6,1700.0 361.7,100.0 377.8,100.0 377.9,180.0 380.5,421.0 381.9,468.5 383.4,518.0 384.0,560.0 385.3,572.6 386.6,584.0 387.9,589.2 389.3,593.2 390.6,596.0 391.9,594.1 393.3,596.3 394.6,593.0 395.9,607.6 397.2,616.0 398.5,626.6 399.9,638.0 401.2,614.0 402.3,627.0 403.4,634.2 404.5,642.0 405.5,645.1 406.5,646.0 407.8,654.2 409.2,666.5 410.5,677.0 411.5,665.1 412.5,651.5 413.6,653.6 414.7,657.1 415.8,658.0 417.1,668.9 418.5,677.6 419.8,685.0 421.1,687.4 422.5,683.5 423.8,685.0 425.1,699.0 426.4,708.4 427.7,719.0 429.0,722.9 430.4,732.0 431.7,741.4 433.0,748.0 434.3,746.8 435.7,744.4 437.0,740.0 438.5,744.7 440.0,750.0 441.2,756.9 442.5,759.8 443.7,768.0 445.0,778.7 446.3,777.5 447.4,777.3 448.5,779.0 449.7,780.3 450.9,780.7 452.1,779.3 453.3,778.2 454.5,777.8 455.7,780.5 456.9,778.7 458.1,774.9 459.3,773.0 460.7,775.1 462.1,784.8 463.4,787.3 464.8,793.0 466.1,794.3 467.4,800.2 468.7,799.0 470.0,806.0 471.4,803.1 472.8,799.0 474.2,794.8 475.6,791.0 477.0,793.3 478.3,798.9 479.6,808.1 481.0,811.0 482.4,808.1 483.8,803.9 485.1,800.4 486.5,800.0 487.9,805.3 489.2,812.0 490.5,819.8 491.9,827.5 493.2,821.2 494.6,812.6 495.9,805.0 497.3,800.0 498.6,791.8 500.0,787.1 501.4,786.7 502.7,775.0 503.9,754.1 505.2,739.0 506.4,721.0 507.6,705.9 508.8,700.3 510.0,685.0 511.2,695.5 512.4,712.6 513.6,721.0 515.4,748.0 516.6,754.9 517.8,761.6 519.0,766.0 520.4,767.1 521.8,767.7 523.1,767.0 524.5,768.0 525.7,764.7 526.8,763.5 528.0,761.0 529.2,762.2 530.5,766.5 531.7,766.0 532.9,770.8 534.1,771.7 535.3,775.0 536.5,770.5 537.8,764.7 539.0,757.0 540.5,763.4 542.0,765.0 543.3,770.6 544.7,778.8 546.0,782.0 547.3,771.2 548.5,762.8 549.8,752.0 551.1,756.2 552.4,761.7 553.7,763.7 555.0,768.0 556.3,760.2 557.5,751.0 558.8,742.5 560.0,750.3 561.2,755.1 562.4,761.0 563.6,769.9 564.8,779.4 566.0,784.0 567.4,778.6 568.8,770.5 570.1,768.3 571.5,764.0 572.7,769.8 573.8,779.9 575.0,788.0 576.4,783.0 577.8,778.4 579.1,775.1 580.5,771.5 581.8,770.5 583.0,777.1 584.2,785.0 585.4,796.0 586.6,796.5 587.8,797.0 589.0,798.0 590.4,792.6 591.8,789.0 593.1,800.4 594.5,805.0 595.7,804.6 596.8,811.9 598.0,808.5 599.2,813.8 600.5,820.9 601.7,823.0 602.9,830.3 604.1,834.9 605.3,837.0 606.5,834.4 607.8,835.4 609.0,834.0 610.3,832.0 611.6,832.0 612.8,837.1 614.1,844.1 615.3,850.0 616.5,851.0 617.7,857.1 618.9,859.0 620.0,861.5 621.1,863.8 622.3,866.6 623.4,868.0 624.7,867.9 626.0,865.0 627.4,872.4 628.8,879.0 630.0,881.6 631.2,880.4 632.4,881.0 633.6,885.7 634.8,885.1 636.0,888.0 637.1,891.9 638.3,892.2 639.5,893.6 640.6,897.0 641.7,898.2 642.8,899.3 643.9,898.0 645.0,899.0 646.2,892.6 647.5,890.2 648.7,888.0 649.9,887.5 651.1,885.6 652.3,886.0 653.5,882.8 654.8,886.7 656.0,886.0 657.2,890.4 658.4,892.7 659.6,893.5 661.0,884.9 662.3,870.0 663.5,874.4 664.7,873.1 665.9,879.0 667.2,873.4 668.6,874.0 669.8,879.6 671.0,883.4 672.2,888.0 673.4,886.4 674.6,884.0 675.8,881.0 677.2,874.9 678.5,871.9 679.9,868.6 681.3,865.0 682.6,871.6 684.0,874.2 685.4,880.5 686.7,888.0 688.1,887.1 689.4,874.3 690.8,869.6 692.1,866.0 693.0,875.0 694.0,883.0 695.2,882.1 696.3,877.3 697.5,872.0 698.7,864.8 700.0,862.2 701.2,859.0 702.5,855.9 703.9,855.5 705.1,858.2 706.3,867.5 707.5,872.0 708.9,862.2 710.2,857.0 711.5,849.9 712.9,841.0 714.0,838.5 715.1,835.1 716.3,835.5 717.4,832.0 718.6,833.4 719.8,842.6 721.0,845.0 722.2,837.3 723.5,842.3 724.7,837.0 726.5,834.0 727.4,865.0 728.7,859.2 730.0,859.0 731.4,852.5 732.8,845.0 734.1,855.2 735.5,865.0 736.9,862.9 738.2,859.0 739.6,860.3 741.0,859.0 742.2,863.4 743.4,872.5 744.6,877.0 745.8,880.5 747.0,885.5 748.2,888.0 749.4,890.3 750.6,890.7 751.8,892.0 753.0,895.9 754.2,894.3 755.4,893.5 756.8,887.0 758.1,886.0 759.5,895.8 760.8,902.5 762.1,894.6 763.5,892.0 764.6,894.8 765.8,898.3 766.9,901.0 768.0,901.0 769.0,907.0 769.9,917.0 771.1,917.1 772.3,920.2 773.5,919.0 774.7,923.0 775.8,927.0 777.0,930.0 778.2,925.8 779.5,927.9 780.7,922.0 782.5,921.0 784.3,928.0 785.3,940.7 786.3,947.0 787.5,942.8 788.8,939.4 790.0,938.0 791.2,936.2 792.4,932.0 793.6,931.0 795.0,941.4 796.3,952.0 797.6,968.7 799.0,981.0 800.1,983.3 801.2,984.2 802.4,984.1 803.5,988.5 804.9,994.3 806.2,999.0 807.6,1006.2 809.0,1017.0 810.2,1021.7 811.3,1022.6 812.5,1021.0 813.7,1019.5 815.0,1026.5 816.2,1028.0 817.5,1040.9 818.9,1048.0 820.0,1048.3 821.1,1048.2 822.3,1045.2 823.4,1046.0 824.7,1053.3 826.0,1061.0 827.5,1058.0 827.9,100.0 829.1,100.0 829.5,1060.0 831.0,1075.4 832.4,1088.0 833.5,1145.5 834.6,1200.0 835.6,1236.5 836.6,1269.0 838.0,1269.0 839.0,1255.2 840.0,1240.0 841.2,1232.0 842.4,1222.0 843.3,1184.0 844.2,1157.0 846.0,1116.0 847.0,1104.6 848.0,1090.0 849.2,1082.4 850.5,1078.0 851.5,1101.2 852.4,1125.0 853.8,1121.9 855.1,1114.0 856.3,1121.6 857.5,1127.4 858.7,1136.0 859.8,1135.0 861.0,1136.7 862.1,1134.4 863.2,1134.0 864.4,1143.3 865.7,1151.1 866.9,1159.0 868.1,1149.9 869.3,1141.5 870.5,1132.0 871.7,1144.1 872.8,1154.9 874.0,1165.0 875.1,1160.5 876.3,1157.8 877.5,1158.2 878.6,1154.0 879.7,1154.1 880.9,1156.4 882.0,1153.7 883.1,1152.0 884.3,1155.1 885.5,1156.7 886.7,1162.0 887.7,1162.6 888.6,1170.0 889.9,1168.2 891.2,1169.0 892.5,1169.9 893.7,1171.9 895.0,1174.0 896.1,1175.1 897.3,1175.9 898.4,1177.0 900.0,1168.0 901.5,1169.0 903.0,1167.5 904.8,1175.0 906.6,1163.0 907.8,1171.0 909.0,1179.0 910.2,1179.8 911.5,1176.0 912.7,1178.6 913.9,1179.0 915.1,1170.1 916.3,1158.0 917.8,1168.9 919.3,1181.0 920.5,1172.2 921.7,1166.0 922.9,1172.9 924.1,1179.0 925.3,1175.4 926.5,1172.0 928.3,1184.0 929.8,1179.9 931.3,1176.5 932.5,1173.5 933.8,1169.0 935.0,1167.8 936.2,1163.0 937.4,1163.5 938.6,1162.1 939.8,1161.0 941.3,1166.9 942.8,1173.0 944.0,1168.7 945.2,1166.0 946.7,1165.1 948.2,1163.0 949.4,1170.3 950.6,1175.0 952.4,1155.0 953.8,1156.1 955.1,1158.2 956.5,1158.7 957.9,1160.0 959.3,1155.0 960.8,1151.0 961.9,1151.8 963.0,1152.0 964.1,1158.8 965.2,1151.9 966.3,1153.0 967.5,1152.6 968.7,1145.5 969.9,1144.0 971.1,1143.7 972.3,1146.8 973.5,1148.0 974.7,1144.1 975.9,1141.8 977.1,1140.0 978.3,1134.8 979.5,1133.2 980.7,1129.5 981.9,1125.6 983.1,1129.6 984.3,1129.5 985.5,1126.8 986.8,1125.2 988.0,1126.0 989.2,1131.0 990.4,1139.0 991.6,1144.0 992.8,1135.9 994.0,1133.4 995.2,1124.0 996.4,1126.3 997.6,1122.0 998.8,1126.0 1000.6,1113.0 1001.8,1106.4 1003.0,1101.0 1004.2,1097.0 1005.4,1093.3 1006.6,1094.0 1007.8,1093.0 1009.0,1089.9 1010.3,1086.3 1011.5,1086.0 1012.7,1081.5 1013.8,1078.0 1015.0,1075.0 1016.3,1077.2 1017.7,1080.2 1019.0,1075.0 1020.1,1072.9 1021.2,1070.7 1022.3,1068.0 1024.1,1084.0 1025.3,1075.9 1026.5,1070.9 1027.7,1063.0 1028.9,1058.0 1030.2,1053.8 1031.4,1050.0 1032.6,1057.4 1033.8,1063.8 1035.0,1072.0 1036.2,1061.7 1037.4,1054.3 1038.6,1045.0 1039.8,1047.4 1041.0,1051.4 1042.2,1054.0 1043.4,1049.6 1044.6,1050.4 1045.8,1046.0 1047.0,1043.7 1048.2,1044.4 1049.4,1041.0 1050.6,1046.7 1051.8,1050.8 1053.0,1059.0 1054.2,1050.5 1055.5,1043.7 1056.7,1035.5 1057.9,1037.8 1059.1,1040.2 1060.3,1045.0 1061.4,1041.4 1062.5,1031.5 1063.6,1029.5 1064.8,1022.9 1066.0,1023.4 1067.2,1017.0 1068.6,1021.1 1070.0,1024.0 1071.3,1019.1 1072.7,1017.0 1073.9,1018.4 1075.1,1019.7 1076.3,1024.0 1077.5,1013.9 1078.7,1002.9 1079.9,995.0 1081.7,1020.5 1083.0,1014.2 1084.4,1005.7 1085.8,1002.2 1087.1,997.0 1088.0,1008.6 1089.0,1019.0 1090.1,1012.3 1091.2,1005.6 1092.4,1002.0 1093.5,993.0 1094.8,997.0 1096.2,1003.2 1097.6,1010.0 1098.9,1011.5 1100.1,1008.3 1101.3,1001.4 1102.5,995.0 1103.8,991.0 1105.2,997.0 1106.6,991.1 1107.9,981.0 1109.0,987.1 1110.2,988.1 1111.3,988.1 1112.4,997.0 1113.6,997.2 1114.8,999.3 1116.0,995.0 1117.0,983.0 1117.9,972.0 1119.0,970.4 1120.2,969.2 1121.3,964.0 1122.4,963.0 1123.8,975.2 1125.1,981.0 1126.5,977.9 1128.0,975.0 1129.1,975.5 1130.3,977.7 1131.4,979.0 1133.0,971.6 1134.5,964.0 1135.6,970.0 1136.7,972.8 1137.8,979.0 1139.2,990.2 1140.5,999.0 1142.3,979.0 1143.7,994.1 1145.0,1002.0 1146.2,1002.2 1147.4,1005.9 1148.6,1006.0 1150.4,999.0 1151.8,1011.6 1153.1,1019.0 1154.3,1017.6 1155.5,1014.1 1156.7,1013.0 1158.1,1014.2 1159.5,1010.0 1160.8,1017.1 1162.2,1022.0 1163.3,1022.9 1164.5,1024.8 1165.6,1024.4 1166.7,1024.0 1168.5,1037.0 1169.7,1034.7 1170.9,1034.7 1172.1,1033.0 1173.3,1037.9 1174.5,1036.8 1175.7,1040.0 1176.8,1037.5 1178.0,1031.0 1179.2,1026.3 1180.3,1020.5 1181.5,1027.6 1182.7,1033.0 1183.9,1039.0 1185.1,1033.7 1186.3,1035.3 1187.5,1031.0 1188.8,1034.2 1190.2,1039.0 1191.6,1031.8 1192.9,1022.0 1194.7,1055.0 1196.1,1041.2 1197.4,1029.5 1198.8,1034.3 1200.1,1035.0 1201.5,1026.0 1202.9,1017.0 1204.0,1014.6 1205.0,1014.8 1206.1,1013.0 1207.2,1020.6 1208.3,1026.0 1209.5,1024.9 1210.7,1024.3 1211.9,1022.0 1213.2,1021.1 1214.6,1017.0 1215.8,1025.0 1217.0,1030.5 1218.2,1037.0 1219.6,1026.1 1221.0,1015.0 1222.3,1025.3 1223.7,1031.0 1225.1,1039.5 1226.4,1051.0 1227.6,1047.9 1228.8,1045.0 1230.0,1044.0 1231.8,1062.0 1232.7,1087.0 1234.5,1114.0 1235.8,1117.2 1237.2,1123.0 1238.4,1126.4 1239.6,1132.2 1240.8,1136.0 1242.0,1139.6 1243.2,1148.9 1244.4,1150.0 1245.8,1158.8 1247.2,1168.5 1248.0,1187.0 1249.4,1188.0 1250.8,1185.0 1252.2,1188.8 1253.5,1192.0 1255.3,1219.0 1256.7,1221.6 1258.0,1222.0 1259.3,1229.7 1260.7,1241.0 1261.9,1242.5 1263.1,1239.8 1264.3,1248.0 1265.7,1246.7 1267.0,1246.0 1268.4,1256.8 1269.8,1272.0 1271.2,1265.7 1272.5,1266.0 1273.8,1264.2 1275.2,1266.0 1276.6,1276.4 1277.9,1282.0 1279.2,1286.8 1280.6,1295.0 1281.8,1291.9 1283.0,1295.0 1284.3,1290.2 1285.7,1286.0 1287.5,1295.0 1288.6,1292.2 1289.7,1288.0 1291.1,1288.9 1292.4,1295.0 1293.8,1299.1 1295.1,1299.0 1296.4,1305.9 1297.8,1311.0 1299.0,1305.9 1300.2,1301.5 1301.4,1295.0 1302.8,1297.2 1304.1,1300.5 1305.3,1300.0 1306.5,1302.9 1307.7,1302.0 1308.9,1301.3 1310.2,1302.6 1311.4,1304.0 1312.8,1300.4 1314.1,1299.0 1315.3,1301.2 1316.5,1299.4 1317.7,1300.5 1318.9,1299.2 1320.1,1297.3 1321.3,1299.0 1322.5,1300.9 1323.7,1297.9 1324.9,1297.0 1326.2,1295.2 1327.6,1295.0 1328.9,1299.7 1330.3,1304.0 1331.5,1300.6 1332.6,1295.5 1333.8,1295.8 1334.9,1291.5 1336.1,1292.3 1337.3,1295.0 1338.5,1293.0 1339.7,1291.7 1340.9,1290.1 1342.1,1291.5 1343.2,1286.9 1344.3,1288.8 1345.4,1287.5 1346.8,1292.1 1348.1,1295.6 1349.5,1294.4 1350.9,1294.0 1352.2,1301.5 1353.6,1313.0 1354.9,1307.8 1356.3,1300.0 1357.3,1301.0 1358.3,1308.0 1359.4,1312.5 1360.6,1312.3 1361.7,1313.0 1363.1,1304.2 1364.4,1293.0 1365.8,1298.5 1367.1,1302.0 1368.2,1298.3 1369.4,1297.7 1370.5,1294.0 1371.8,1301.2 1373.2,1304.0 1374.6,1302.9 1376.0,1309.6 1377.3,1312.9 1378.7,1313.0 1379.8,1315.7 1380.9,1319.9 1382.0,1321.0 1383.4,1320.6 1384.8,1316.0 1386.0,1314.8 1387.2,1310.9 1388.3,1308.7 1389.5,1308.0 1390.8,1315.5 1392.2,1324.0 1393.2,1323.3 1394.3,1319.0 1395.7,1327.7 1397.0,1336.0 1398.3,1329.6 1399.7,1327.0 1400.8,1325.0 1402.0,1323.0 1403.1,1327.0 1404.4,1319.0 1405.8,1316.0 1407.2,1318.5 1408.5,1323.0 1409.6,1319.0 1410.8,1321.3 1411.9,1316.0 1413.2,1318.9 1414.6,1320.0 1415.9,1314.3 1417.3,1308.0 1418.7,1307.0 1420.0,1306.5 1421.3,1309.5 1422.7,1316.0 1423.8,1308.4 1424.8,1300.0 1425.8,1311.4 1426.8,1317.0 1428.2,1296.0 1429.6,1295.6 1430.9,1294.0 1432.2,1290.1 1433.6,1291.5 1434.9,1300.0 1436.3,1298.5 1437.7,1297.0 1438.8,1296.5 1439.9,1292.4 1441.0,1294.0 1442.4,1289.3 1443.8,1291.5 1445.1,1281.0 1446.1,1279.7 1447.1,1283.0 1448.5,1264.0 1449.5,1269.4 1450.5,1274.0 1451.9,1283.0 1452.9,1281.3 1453.9,1279.0 1455.2,1272.7 1456.6,1271.0 1457.7,1265.1 1458.7,1258.0 1460.1,1257.6 1461.4,1255.0 1462.4,1253.8 1463.4,1260.0 1464.5,1257.7 1465.5,1254.0 1466.5,1248.3 1467.5,1242.0 1468.8,1238.5 1470.2,1235.0 1471.6,1230.2 1472.9,1224.0 1474.7,1217.0 1475.8,1220.3 1477.0,1220.0 1478.5,1216.2 1480.1,1213.0 1481.5,1213.1 1482.9,1211.0 1484.1,1211.4 1485.3,1207.0 1486.5,1209.5 1488.3,1195.0 1490.1,1191.5 1491.4,1189.8 1492.8,1186.0 1494.2,1175.3 1495.5,1168.0 1496.8,1169.3 1498.2,1168.0 1499.6,1170.8 1500.9,1184.0 1502.7,1157.0 1504.1,1152.7 1505.5,1148.0 1507.3,1144.5 1508.4,1144.5 1509.5,1139.5 1510.7,1135.3 1511.8,1134.0 1513.2,1130.9 1514.5,1130.0 1515.8,1129.7 1517.2,1130.0 1519.0,1119.0 1520.8,1103.0 1522.6,1112.0 1524.0,1105.2 1525.4,1101.0 1526.8,1098.2 1528.1,1097.0 1529.3,1098.5 1530.5,1098.2 1531.7,1101.0 1532.9,1096.9 1534.1,1097.0 1535.3,1099.0 1536.5,1098.6 1537.7,1092.8 1538.9,1092.0 1540.1,1090.1 1541.3,1087.9 1542.5,1087.0 1543.9,1088.0 1545.3,1083.0 1546.7,1082.1 1548.0,1082.9 1549.3,1083.1 1550.7,1083.0 1552.5,1094.0 1553.8,1083.7 1555.2,1067.0 1556.6,1068.8 1557.9,1068.5 1559.2,1068.8 1560.6,1067.0 1561.8,1071.4 1563.0,1070.0 1564.2,1076.0 1565.6,1082.8 1567.0,1087.0 1568.1,1091.5 1569.2,1091.1 1570.4,1095.6 1571.5,1094.0 1572.8,1095.0 1574.2,1097.0 1575.4,1096.2 1576.6,1097.8 1577.8,1099.0 1579.2,1103.8 1580.5,1110.0 1581.8,1102.9 1583.2,1101.0 1584.6,1108.2 1585.9,1114.0 1587.7,1123.0 1589.1,1120.3 1590.4,1119.0 1591.6,1118.4 1592.9,1119.0 1594.1,1121.0 1595.4,1136.2 1596.8,1141.0 1598.6,1146.0 1599.9,1145.3 1601.3,1148.0 1602.7,1150.8 1604.0,1148.7 1605.3,1151.9 1606.7,1152.0 1608.1,1152.6 1609.4,1150.0 1610.8,1153.8 1612.2,1161.0 1614.0,1181.0 1615.3,1183.9 1616.7,1184.0 1617.8,1184.3 1618.9,1180.4 1620.0,1183.0 1621.0,1182.8 1622.1,1191.5 1623.4,1198.8 1624.8,1200.5 1626.3,1205.0 1627.7,1208.2 1629.0,1214.0 1630.2,1215.5 1631.5,1216.9 1632.7,1219.0 1633.8,1218.6 1634.9,1219.4 1636.0,1222.0 1637.0,1223.0 1638.1,1228.0 1639.3,1230.4 1640.5,1226.6 1641.7,1230.0 1643.1,1230.6 1644.4,1232.0 1645.8,1232.3 1647.1,1230.0 1648.9,1244.5 1650.2,1242.8 1651.6,1239.0 1653.0,1246.2 1654.4,1248.0 1655.8,1245.3 1657.1,1246.0 1658.4,1249.5 1659.8,1255.0 1661.2,1258.8 1662.5,1259.0 1664.3,1277.0 1665.7,1279.6 1667.0,1281.0 1668.3,1275.2 1669.7,1270.0 1671.1,1274.8 1672.4,1282.0 1673.8,1278.7 1675.2,1272.0 1676.6,1271.6 1677.9,1275.0 1679.1,1278.1 1680.3,1280.1 1681.5,1284.0 1682.7,1286.7 1683.9,1287.3 1685.1,1288.0 1686.3,1286.8 1687.5,1288.8 1688.7,1291.5 1690.1,1296.3 1691.4,1297.0 1692.8,1293.1 1694.1,1288.0 1695.5,1292.8 1696.9,1295.0 1698.2,1298.1 1699.6,1297.0 1700.9,1301.4 1702.3,1300.5 1703.3,1308.8 1704.4,1317.6 1705.6,1314.8 1706.8,1311.0 1708.2,1316.0 1709.5,1322.0 1710.8,1316.1 1712.2,1306.0 1713.6,1308.0 1714.9,1311.0 1716.5,1307.6 1718.0,1304.0 1719.2,1302.7 1720.5,1300.0 1722.2,1295.0 1723.6,1302.5 1724.9,1313.0 1726.1,1312.6 1727.3,1308.3 1728.5,1304.0 1729.7,1303.1 1730.9,1310.4 1732.1,1308.0 1733.2,1308.9 1734.3,1309.5 1735.5,1309.5 1736.6,1311.0 1737.9,1313.9 1739.3,1319.0 1740.5,1313.6 1741.8,1316.3 1743.0,1311.0 1744.3,1322.5 1745.7,1329.4 1747.1,1325.0 1748.4,1313.0 1749.6,1316.6 1750.8,1320.6 1752.0,1319.0 1753.2,1315.8 1754.4,1315.4 1755.6,1315.0 1756.8,1312.0 1758.0,1314.0 1759.2,1309.5 1761.0,1302.0 1762.2,1303.2 1763.5,1305.6 1764.7,1309.5 1765.9,1310.4 1767.1,1312.3 1768.3,1309.5 1769.7,1300.5 1771.0,1295.0 1772.3,1304.6 1773.7,1309.5 1774.9,1305.1 1776.1,1302.9 1777.3,1300.5 1778.7,1301.4 1780.0,1302.0 1781.3,1297.0 1782.7,1286.0 1784.1,1287.7 1785.5,1286.0 1786.8,1294.5 1788.2,1300.5 1789.6,1298.0 1790.9,1291.5 1792.1,1291.3 1793.3,1292.3 1794.5,1291.5 1795.7,1290.9 1796.9,1284.8 1798.1,1281.0 1799.4,1285.9 1800.8,1295.0 1802.2,1293.5 1803.5,1288.0 1804.9,1286.4 1806.3,1284.0 1807.7,1271.5 1809.0,1264.0 1810.8,1284.0 1812.0,1282.5 1813.2,1280.7 1814.4,1279.0 1815.8,1279.7 1817.1,1282.0 1818.4,1280.3 1819.8,1277.0 1821.0,1274.9 1822.2,1274.6 1823.4,1275.0 1824.8,1269.5 1826.2,1262.5 1828.0,1275.0 1829.3,1276.5 1830.7,1270.0 1831.9,1271.1 1833.1,1267.7 1834.3,1268.0 1835.7,1269.1 1837.0,1270.0 1838.2,1271.0 1839.4,1266.3 1840.6,1268.0 1841.8,1266.7 1843.0,1266.0 1844.2,1262.5 1845.4,1262.2 1846.6,1262.4 1847.8,1261.0 1849.2,1261.6 1850.6,1253.5 1851.9,1255.1 1853.3,1257.0 1855.1,1268.0 1856.3,1268.3 1857.5,1265.8 1858.7,1264.0 1859.9,1263.8 1861.1,1262.9 1862.3,1268.0 1863.5,1270.7 1864.8,1275.6 1866.0,1270.0 1867.1,1267.9 1868.2,1263.9 1869.4,1261.6 1870.5,1259.0 1871.8,1261.7 1873.2,1268.0 1875.0,1281.0 1876.3,1275.8 1877.7,1272.0 1879.1,1273.1 1880.4,1277.0 1881.6,1273.4 1882.8,1266.6 1884.0,1266.0 1885.2,1265.6 1886.4,1264.5 1887.6,1266.0 1888.8,1270.3 1890.0,1271.2 1891.2,1273.0 1892.6,1278.1 1894.0,1282.2 1895.4,1284.5 1896.7,1284.8 1898.1,1277.2 1899.4,1275.0 1900.6,1275.6 1901.8,1274.2 1903.0,1275.0 1904.3,1271.8 1905.7,1268.0 1907.1,1267.2 1908.4,1265.0 1909.5,1263.8 1910.6,1263.2 1911.7,1260.6 1913.1,1266.1 1914.6,1264.8 1916.0,1267.0 1917.2,1249.5 1918.4,1235.0 1919.6,1237.0 1920.8,1238.6 1922.0,1245.0 1923.3,1247.7 1924.5,1252.4 1925.8,1256.0 1927.2,1250.9 1928.7,1240.6 1930.1,1239.0 1931.2,1239.5 1932.3,1247.2 1933.4,1247.6 1934.5,1246.1 1935.6,1238.4 1936.7,1237.0 1938.1,1235.9 1939.6,1234.9 1941.0,1234.5 1942.1,1233.7 1943.2,1227.8 1944.3,1224.0 1945.3,1233.2 1946.4,1239.0 1947.5,1235.5 1948.6,1227.3 1949.7,1221.5 1950.8,1224.2 1951.8,1228.6 1952.9,1237.0 1954.0,1225.9 1955.1,1215.0 1956.5,1209.3 1958.0,1203.2 1959.4,1200.0 1960.5,1200.4 1961.6,1202.6 1962.7,1204.0 1963.8,1199.0 1964.9,1195.9 1966.0,1195.5 1967.4,1196.2 1968.9,1193.5 1970.3,1191.0 1971.4,1184.7 1972.5,1180.0 1973.9,1173.7 1975.4,1170.1 1976.8,1167.0 1978.2,1165.1 1979.5,1164.2 1980.8,1154.4 1982.2,1154.0 1983.3,1152.9 1984.4,1153.7 1985.5,1152.0 1986.6,1152.3 1987.6,1155.1 1988.7,1156.0 1989.8,1159.5 1990.9,1167.6 1992.0,1171.6 1993.1,1167.7 1994.2,1163.0 1995.6,1167.6 1997.1,1168.5 1998.5,1171.6 1999.6,1175.5 2000.7,1178.9 2001.8,1180.0 2002.8,1173.1 2003.9,1169.0 2005.0,1170.2 2006.1,1173.0 2007.2,1176.0 2008.3,1179.2 2009.3,1183.1 2010.4,1187.0 2011.5,1190.7 2012.6,1194.7 2013.7,1198.0 2015.1,1190.8 2016.6,1185.5 2018.0,1180.0 2019.1,1183.5 2020.2,1183.6 2021.3,1187.0 2022.4,1190.5 2023.4,1196.1 2024.5,1202.0 2025.7,1201.8 2026.8,1203.2 2028.0,1200.0 2029.3,1199.6 2030.6,1200.9 2031.9,1199.6 2033.2,1200.0 2034.3,1199.0 2035.4,1193.5 2036.5,1191.0 2037.6,1183.7 2038.6,1178.6 2039.7,1169.0 2040.8,1170.8 2041.9,1168.5 2043.0,1165.0 2044.1,1169.3 2045.2,1171.6 2046.3,1174.0 2047.7,1167.6 2049.2,1167.4 2050.6,1165.0 2051.7,1157.2 2052.8,1154.0 2053.9,1157.8 2054.9,1156.0 2056.0,1142.9 2057.1,1133.0 2058.2,1125.6 2059.3,1117.5 2060.4,1111.0 2062.2,1090.0 2063.6,1081.6 2064.9,1080.4 2066.3,1075.0 2067.7,1059.4 2069.0,1047.2 2070.4,1030.0 2071.9,1025.2 2073.4,1016.0 2074.9,992.2 2076.5,964.5 2077.9,947.2 2079.2,930.1 2080.6,913.0 2082.1,892.0 2083.7,866.0 2084.7,853.8 2085.7,841.5 2087.2,772.0 2088.8,725.0 2089.9,706.8 2090.9,693.9 2092.0,673.0 2093.7,644.0 2095.3,611.0 2097.0,577.0 2098.1,577.1 2099.2,573.1 2100.3,574.0 2101.6,565.0 2101.9,551.0"/>
<polyline stroke="#00bfbf" points="398.5,100.0 398.6,180.0 401.5,301.0 402.8,360.3 404.0,421.0 405.1,450.3 406.3,474.0 407.3,476.0 408.6,516.4 410.0,551.0 411.0,552.0 412.3,566.0 413.7,572.6 415.1,580.0 416.2,589.6 417.4,607.9 418.5,620.0 419.8,635.7 421.1,653.0 422.4,665.0 423.4,662.3 424.4,657.0 425.4,667.1 426.4,679.0 427.8,684.3 429.1,693.0 430.4,714.0 431.4,709.9 432.4,705.0 433.4,710.9 434.4,719.0 435.4,721.7 436.4,722.0 437.7,727.5 439.0,736.0 440.0,736.2 441.0,734.0 442.4,744.2 443.7,751.0 445.0,760.7 446.3,767.0 447.3,763.1 448.3,756.0 449.3,763.1 450.3,769.5 451.6,763.8 453.0,758.8 454.3,760.0 455.6,767.3 456.9,775.0 458.3,780.0 459.8,779.2 461.2,782.0 462.6,787.0 463.9,786.7 465.2,786.6 466.6,788.0 468.0,789.0 469.3,782.8 470.6,781.8 472.0,777.0 473.4,779.2 474.7,781.1 476.0,788.2 477.4,789.5 478.8,788.5 480.1,793.3 481.5,792.3 482.9,797.0 484.1,791.8 485.3,781.5 486.5,777.0 487.7,784.7 488.8,793.8 490.0,802.0 491.4,800.1 492.8,791.8 494.1,790.4 495.5,784.0 496.9,788.0 498.2,789.0 499.6,782.6 501.0,789.5 502.7,768.0 504.0,773.9 505.4,770.4 506.7,778.2 508.0,780.5 509.4,777.6 510.8,779.0 512.2,782.2 513.6,782.0 514.8,778.2 516.0,767.5 517.2,764.0 518.6,763.6 519.9,763.5 521.2,764.7 522.6,768.0 523.8,762.1 525.1,751.4 526.3,744.0 527.6,740.7 529.0,736.8 530.4,734.3 531.7,730.0 533.5,757.0 534.7,752.6 535.8,743.0 537.0,735.0 538.2,733.1 539.5,725.2 540.7,724.5 542.1,732.6 543.6,739.0 545.0,745.0 546.2,742.1 547.4,733.2 548.6,731.3 549.8,728.0 551.0,732.9 552.2,735.4 553.4,737.0 554.8,728.6 556.1,724.8 557.4,720.0 558.8,714.0 560.0,720.9 561.2,725.1 562.4,732.0 563.8,736.9 565.1,734.6 566.4,738.6 567.8,739.0 569.2,743.9 570.5,745.9 571.9,751.3 573.3,757.0 574.5,753.1 575.7,750.7 576.9,746.0 578.5,743.0 580.0,745.0 581.1,748.7 582.3,752.0 583.6,742.0 584.8,750.3 586.0,759.3 587.2,765.0 588.4,764.4 589.6,762.9 590.8,767.0 592.2,762.2 593.6,758.0 595.0,769.4 596.3,780.0 597.6,780.7 599.0,781.0 600.1,787.3 601.2,796.6 602.4,801.6 603.5,808.5 604.7,812.9 605.8,809.7 607.0,812.0 608.1,812.6 609.3,810.0 610.5,808.3 611.6,808.5 612.7,813.4 613.8,816.5 614.9,822.0 615.5,827.0 616.9,830.0 618.4,829.1 619.8,837.0 621.1,839.1 622.5,845.0 623.7,844.2 624.9,846.7 626.1,850.0 627.3,856.9 628.5,859.9 629.7,866.0 630.8,869.2 632.0,871.4 633.1,877.3 634.2,879.0 635.5,880.6 636.7,877.3 638.0,875.0 639.2,883.6 640.3,882.9 641.5,888.0 642.9,882.6 644.2,879.0 645.5,888.1 646.9,899.0 648.1,892.8 649.3,892.2 650.5,890.0 651.7,889.4 652.9,893.1 654.1,895.0 655.3,897.3 656.6,900.6 657.8,904.0 659.0,905.7 660.2,907.5 661.4,910.0 663.2,884.0 664.4,889.1 665.6,897.0 666.8,904.0 668.1,892.5 669.5,888.0 670.7,891.2 671.9,902.4 673.1,908.0 674.2,910.2 675.4,905.8 676.5,905.5 677.6,904.0 678.8,903.3 679.9,895.9 681.1,896.9 682.2,895.0 683.3,901.4 684.5,905.4 685.6,914.6 686.7,919.0 688.1,916.0 689.4,914.0 690.8,909.2 692.1,906.0 693.0,914.5 694.0,922.0 695.3,918.0 696.6,916.0 698.0,914.8 699.3,913.0 700.5,911.2 701.8,908.2 703.0,906.0 704.1,907.3 705.2,918.5 706.4,925.5 707.5,928.0 708.6,923.9 709.8,919.9 710.9,914.8 712.0,912.0 713.4,911.8 714.7,907.1 716.0,904.2 717.4,901.0 718.6,902.5 719.8,910.5 721.0,917.0 722.2,913.7 723.5,910.9 724.7,904.0 726.0,920.1 727.4,935.0 728.6,929.4 729.8,922.2 731.0,917.0 732.2,923.6 733.4,930.5 734.6,937.0 735.7,934.5 736.9,933.3 738.0,932.8 739.1,930.0 740.3,939.3 741.5,943.8 742.7,946.0 743.9,948.6 745.2,955.2 746.4,957.0 747.6,958.8 748.8,961.5 750.0,960.0 751.2,954.6 752.4,959.5 753.6,951.0 754.7,953.1 755.9,956.6 757.0,960.0 758.5,962.1 760.0,964.0 761.3,961.5 762.6,953.0 763.8,956.2 765.1,961.3 766.3,964.0 767.6,965.4 769.0,969.0 770.8,953.0 772.1,961.8 773.5,968.0 774.7,966.8 775.8,966.5 777.0,964.0 778.2,965.5 779.5,967.3 780.7,973.0 781.9,969.5 783.1,965.0 784.3,964.0 785.6,974.6 787.0,982.0 788.4,974.4 789.8,971.0 791.1,965.2 792.3,962.9 793.6,956.0 795.0,970.4 796.3,979.5 797.5,982.4 798.7,989.7 799.9,992.0 801.1,997.2 802.3,995.6 803.5,997.5 804.7,1003.5 805.9,1009.0 807.1,1010.0 808.2,1010.2 809.4,1005.8 810.5,1004.1 811.6,1003.0 812.5,1008.2 813.5,1010.0 814.8,1014.0 816.0,1015.0 817.3,1018.6 818.5,1024.3 819.8,1032.0 821.0,1030.4 822.2,1026.6 823.4,1025.0 824.7,1035.2 826.0,1042.0 827.6,1040.0 828.0,100.0 829.0,100.0 829.4,1045.0 830.5,1041.3 831.5,1040.0 832.5,1043.6 833.5,1050.0 835.0,1235.0 836.5,1240.0 838.0,1080.0 839.5,1200.0 841.0,1060.0 842.5,1150.0 844.0,1050.0 845.5,1100.0 847.0,1060.0 848.4,1041.1 849.7,1022.0 851.5,1060.0 852.3,1061.0 853.5,1061.5 854.8,1057.8 856.0,1050.0 857.2,1058.3 858.4,1062.8 859.6,1072.0 860.7,1067.1 861.8,1071.8 862.9,1066.9 864.0,1064.0 865.4,1078.1 866.8,1086.0 868.0,1075.1 869.2,1066.3 870.4,1059.0 871.6,1064.0 872.8,1073.4 874.0,1079.0 875.5,1078.4 877.0,1075.0 878.2,1072.3 879.4,1074.2 880.6,1072.9 881.8,1069.0 883.0,1070.0 884.2,1070.8 885.5,1075.4 886.7,1075.0 887.9,1076.8 889.1,1077.5 890.3,1082.5 891.5,1080.8 892.7,1075.1 893.9,1072.0 895.5,1073.0 897.0,1079.0 898.4,1078.4 899.8,1075.4 901.2,1072.0 902.4,1078.2 903.6,1072.7 904.8,1077.0 906.0,1076.8 907.2,1077.7 908.4,1068.0 909.6,1072.2 910.8,1079.0 912.0,1081.0 913.4,1077.4 914.7,1074.7 916.0,1065.3 917.4,1066.0 918.6,1074.4 919.8,1079.1 921.0,1086.0 922.2,1083.0 923.5,1083.0 924.7,1079.0 925.9,1079.5 927.1,1087.6 928.3,1092.0 929.5,1089.7 930.8,1084.8 932.0,1085.0 933.3,1085.3 934.6,1082.9 936.0,1083.9 937.3,1082.5 938.5,1084.5 939.8,1086.5 941.0,1086.0 942.4,1091.1 943.7,1097.0 944.9,1093.1 946.1,1087.5 947.3,1090.0 948.5,1095.7 949.7,1097.5 950.9,1102.0 952.1,1097.9 953.3,1088.3 954.5,1081.0 955.7,1085.0 956.9,1085.4 958.1,1088.0 959.5,1097.8 960.8,1102.0 961.9,1099.0 962.9,1095.5 964.0,1090.0 965.2,1091.2 966.4,1085.4 967.5,1085.1 968.7,1080.0 969.9,1081.0 971.1,1083.9 972.3,1086.5 973.5,1093.0 974.9,1096.1 976.2,1098.0 977.5,1092.4 978.9,1095.0 980.1,1091.2 981.3,1089.3 982.5,1088.0 983.9,1090.2 985.2,1094.3 986.6,1093.7 988.0,1097.0 989.2,1103.2 990.4,1104.6 991.6,1113.0 992.8,1109.9 994.0,1108.5 995.2,1104.0 996.6,1108.5 998.0,1110.0 999.1,1112.2 1000.2,1108.5 1001.3,1103.6 1002.4,1104.0 1003.8,1109.1 1005.1,1115.0 1006.5,1112.0 1008.0,1113.0 1009.2,1107.8 1010.3,1105.9 1011.5,1102.0 1012.7,1101.4 1013.8,1097.4 1015.0,1093.0 1016.2,1099.2 1017.5,1103.0 1018.7,1108.0 1019.9,1102.2 1021.1,1100.4 1022.3,1099.0 1023.5,1106.3 1024.8,1110.3 1026.0,1115.0 1027.1,1107.2 1028.2,1106.8 1029.4,1105.7 1030.5,1099.0 1031.6,1101.5 1032.8,1111.8 1033.9,1112.8 1035.0,1119.0 1036.3,1109.6 1037.7,1095.0 1038.9,1100.2 1040.1,1108.8 1041.3,1111.5 1042.7,1107.5 1044.0,1101.0 1045.2,1108.1 1046.4,1112.5 1047.6,1115.0 1048.8,1114.8 1050.0,1111.7 1051.2,1119.0 1052.4,1123.6 1053.7,1130.1 1054.9,1137.0 1056.1,1127.8 1057.3,1127.0 1058.5,1122.0 1059.7,1126.7 1060.8,1131.8 1062.0,1135.0 1063.4,1133.4 1064.8,1130.4 1066.1,1124.7 1067.5,1128.0 1068.9,1135.6 1070.2,1134.3 1071.6,1135.0 1073.0,1140.0 1074.2,1129.1 1075.3,1127.7 1076.5,1125.0 1077.6,1124.6 1078.8,1122.7 1079.9,1121.5 1081.7,1145.0 1083.0,1139.3 1084.4,1134.9 1085.8,1131.1 1087.1,1129.0 1088.9,1145.0 1090.1,1141.7 1091.2,1137.5 1092.3,1133.3 1093.5,1129.0 1094.6,1130.7 1095.8,1136.8 1096.9,1141.7 1098.0,1147.0 1099.2,1142.8 1100.4,1144.9 1101.6,1138.0 1102.9,1139.3 1104.3,1131.7 1105.7,1133.8 1107.0,1129.0 1108.1,1135.3 1109.2,1136.8 1110.4,1144.1 1111.5,1149.0 1112.7,1142.3 1113.8,1139.2 1114.9,1140.8 1116.1,1132.0 1117.4,1129.9 1118.6,1132.3 1119.9,1128.3 1121.1,1132.1 1122.4,1129.0 1123.6,1132.6 1124.8,1137.5 1126.0,1140.0 1127.1,1134.3 1128.2,1134.2 1129.4,1138.0 1130.5,1136.0 1131.7,1131.5 1132.9,1129.4 1134.1,1121.5 1135.3,1129.9 1136.6,1130.8 1137.8,1136.0 1139.0,1133.4 1140.2,1128.9 1141.4,1129.0 1143.2,1147.0 1144.5,1146.1 1145.9,1145.5 1147.2,1145.2 1148.6,1143.0 1149.7,1150.4 1150.8,1151.0 1152.0,1156.4 1153.1,1158.0 1154.4,1153.5 1155.7,1156.9 1156.9,1153.6 1158.2,1146.4 1159.5,1149.0 1160.7,1151.7 1161.9,1157.0 1163.1,1158.0 1164.4,1154.9 1165.8,1155.2 1167.2,1155.0 1168.5,1156.0 1170.3,1165.0 1171.5,1163.6 1172.7,1163.5 1173.9,1167.4 1175.1,1164.6 1176.3,1169.5 1177.5,1167.0 1178.9,1162.7 1180.3,1156.0 1181.5,1162.1 1182.7,1168.3 1183.9,1174.0 1185.0,1174.5 1186.2,1174.0 1187.3,1170.2 1188.4,1172.0 1189.6,1171.0 1190.8,1167.4 1192.0,1167.0 1193.3,1180.6 1194.7,1197.0 1196.1,1195.4 1197.4,1185.0 1198.6,1188.5 1199.8,1190.6 1201.0,1199.0 1202.2,1196.3 1203.5,1196.9 1204.7,1196.0 1206.1,1202.6 1207.4,1210.0 1208.7,1209.1 1209.9,1209.3 1211.2,1209.1 1212.4,1202.9 1213.7,1201.0 1214.8,1202.4 1215.9,1203.5 1217.0,1208.0 1218.3,1200.8 1219.6,1200.4 1220.9,1194.0 1222.1,1198.4 1223.4,1201.8 1224.6,1208.0 1225.9,1201.5 1227.3,1200.2 1228.7,1188.5 1230.0,1183.0 1231.2,1191.3 1232.4,1193.8 1233.6,1197.0 1234.8,1196.7 1236.0,1203.8 1237.2,1208.0 1238.5,1209.3 1239.7,1202.8 1241.0,1204.0 1242.1,1200.5 1243.3,1199.2 1244.4,1201.0 1245.6,1206.6 1246.8,1211.5 1248.0,1221.0 1249.2,1213.3 1250.5,1208.1 1251.7,1201.0 1252.9,1208.0 1254.1,1213.8 1255.3,1219.0 1256.5,1209.0 1257.7,1198.3 1258.9,1192.0 1260.1,1197.6 1261.3,1202.6 1262.5,1205.0 1263.6,1202.4 1264.8,1195.1 1265.9,1193.1 1267.0,1187.0 1268.2,1195.6 1269.5,1200.4 1270.7,1208.0 1272.0,1202.6 1273.4,1194.3 1274.8,1191.8 1276.1,1187.0 1277.2,1190.4 1278.3,1193.9 1279.5,1194.4 1280.6,1197.0 1281.7,1186.9 1282.8,1183.7 1284.0,1174.9 1285.1,1168.5 1286.2,1167.9 1287.4,1167.4 1288.5,1166.9 1289.7,1165.0 1290.8,1162.8 1291.9,1165.2 1293.0,1170.0 1294.2,1170.1 1295.4,1173.3 1296.6,1170.3 1297.8,1174.0 1299.2,1161.3 1300.5,1147.0 1301.7,1143.6 1302.9,1141.2 1304.1,1138.0 1305.3,1134.8 1306.5,1134.9 1307.7,1132.0 1308.9,1128.7 1310.2,1124.3 1311.4,1118.0 1312.6,1114.8 1313.8,1116.4 1315.0,1114.0 1316.2,1109.6 1317.4,1111.9 1318.6,1109.0 1319.9,1103.8 1321.3,1096.0 1322.4,1096.9 1323.5,1092.7 1324.7,1086.5 1325.8,1087.0 1327.0,1084.0 1328.2,1089.7 1329.4,1091.0 1330.6,1091.7 1331.9,1086.6 1333.1,1082.0 1334.4,1078.2 1335.8,1074.5 1336.9,1075.3 1338.0,1073.6 1339.2,1078.9 1340.3,1078.0 1341.6,1076.5 1342.9,1077.3 1344.2,1071.3 1345.5,1067.0 1346.9,1071.6 1348.3,1077.0 1349.5,1078.7 1350.8,1078.7 1352.0,1078.0 1353.6,1087.0 1355.4,1103.0 1357.2,1088.0 1358.6,1097.2 1359.9,1106.5 1361.2,1112.6 1362.6,1121.0 1364.4,1099.0 1365.8,1110.7 1367.1,1114.0 1368.2,1111.7 1369.3,1112.0 1370.5,1107.7 1371.6,1106.5 1372.5,1111.5 1373.5,1119.0 1374.8,1121.5 1376.2,1123.0 1377.6,1131.0 1378.9,1141.0 1380.7,1146.0 1382.1,1154.7 1383.4,1161.0 1384.8,1160.4 1386.1,1159.0 1387.4,1160.5 1388.8,1168.0 1390.6,1157.0 1391.9,1169.3 1393.3,1179.0 1394.7,1182.6 1396.1,1186.0 1397.9,1204.0 1399.2,1208.3 1400.6,1209.5 1401.9,1214.9 1403.3,1220.0 1404.7,1219.8 1406.0,1222.0 1407.3,1225.5 1408.7,1233.0 1409.9,1236.0 1411.1,1234.5 1412.3,1235.0 1413.5,1241.0 1415.0,1242.0 1416.4,1240.4 1417.8,1237.0 1418.9,1245.0 1420.5,1249.0 1421.4,1260.0 1423.2,1257.0 1424.3,1270.4 1425.4,1282.0 1426.8,1263.0 1428.2,1267.0 1429.5,1273.0 1430.8,1265.6 1432.2,1267.0 1433.6,1272.5 1434.9,1278.0 1436.3,1274.7 1437.7,1274.0 1438.8,1274.8 1439.9,1279.4 1441.0,1278.0 1442.0,1279.9 1443.1,1286.0 1444.4,1290.5 1445.8,1289.0 1447.2,1293.3 1448.5,1296.0 1449.9,1305.0 1451.2,1308.1 1452.6,1309.0 1453.9,1313.2 1455.3,1313.0 1456.3,1306.8 1457.3,1305.0 1458.3,1300.9 1459.4,1298.0 1460.8,1300.2 1462.1,1306.5 1463.4,1306.7 1464.8,1310.5 1466.2,1318.5 1467.5,1319.0 1468.8,1320.2 1470.0,1317.0 1471.2,1319.8 1472.4,1322.6 1473.6,1319.0 1475.0,1305.0 1476.0,1311.6 1477.0,1316.0 1478.3,1308.6 1479.7,1308.0 1480.7,1310.6 1481.7,1317.0 1482.8,1312.7 1483.8,1306.5 1484.8,1308.1 1485.8,1308.0 1486.8,1304.4 1487.8,1300.0 1489.2,1303.8 1490.5,1298.0 1491.5,1303.2 1492.6,1302.0 1493.6,1295.2 1494.6,1291.5 1496.0,1293.0 1497.0,1290.0 1498.0,1277.0 1499.3,1270.3 1500.7,1275.0 1501.8,1280.1 1502.8,1290.0 1504.1,1264.0 1505.1,1257.8 1506.1,1258.0 1507.2,1255.9 1508.2,1254.0 1509.2,1263.7 1510.2,1264.0 1511.2,1256.7 1512.3,1255.0 1513.3,1257.6 1514.3,1267.0 1515.4,1266.8 1516.6,1263.8 1517.7,1271.0 1518.7,1266.9 1519.7,1259.0 1520.7,1258.4 1521.7,1254.0 1523.1,1257.9 1524.5,1264.0 1525.6,1260.5 1526.7,1256.3 1527.8,1256.0 1528.8,1258.3 1529.9,1263.0 1531.0,1264.7 1532.2,1266.6 1533.3,1266.0 1534.4,1270.3 1535.6,1269.7 1536.7,1275.0 1538.1,1270.5 1539.4,1268.5 1540.8,1266.9 1542.1,1266.0 1543.4,1265.2 1544.8,1263.0 1546.2,1267.5 1547.5,1267.0 1548.9,1269.1 1550.2,1269.8 1551.6,1277.0 1552.7,1270.3 1553.9,1262.7 1555.0,1255.0 1556.3,1257.7 1557.7,1260.0 1559.1,1260.1 1560.4,1262.0 1561.4,1265.7 1562.4,1267.0 1563.5,1269.2 1564.5,1274.0 1565.5,1282.2 1566.5,1285.0 1567.5,1280.3 1568.5,1274.0 1569.5,1280.0 1570.6,1287.5 1571.9,1290.8 1573.3,1294.0 1574.7,1297.6 1576.0,1298.0 1577.3,1303.9 1578.7,1309.0 1579.7,1306.9 1580.7,1305.0 1581.8,1303.6 1582.8,1304.0 1583.8,1305.8 1584.8,1310.5 1586.2,1312.0 1587.5,1316.0 1588.8,1308.7 1590.2,1306.5 1591.3,1307.4 1592.5,1309.8 1593.6,1310.5 1594.9,1317.0 1596.3,1320.0 1597.7,1323.4 1599.0,1328.0 1600.5,1328.5 1602.0,1327.2 1603.4,1326.0 1604.8,1322.5 1606.1,1322.0 1607.4,1327.2 1608.8,1326.0 1610.2,1318.6 1611.5,1315.0 1612.9,1327.0 1613.9,1334.5 1614.9,1338.0 1616.2,1342.7 1617.6,1341.0 1618.9,1336.5 1620.3,1339.0 1621.3,1342.7 1622.4,1346.0 1623.4,1345.6 1624.4,1350.0 1625.4,1355.5 1626.4,1356.0 1627.5,1354.4 1628.5,1361.0 1629.8,1360.4 1631.2,1365.0 1632.6,1371.0 1633.9,1373.0 1635.0,1369.9 1636.0,1366.0 1637.0,1368.0 1638.0,1370.5 1639.3,1370.2 1640.7,1373.0 1641.8,1373.8 1643.0,1372.0 1644.5,1375.1 1646.1,1375.0 1647.1,1372.6 1648.1,1366.5 1649.5,1370.5 1650.9,1376.0 1651.9,1372.5 1652.9,1365.0 1654.2,1367.6 1655.6,1362.0 1656.9,1362.6 1658.3,1360.0 1659.3,1361.8 1660.4,1366.5 1661.4,1362.5 1662.4,1357.0 1663.5,1364.6 1664.7,1370.6 1665.8,1375.0 1666.9,1371.4 1668.1,1366.0 1669.2,1364.0 1670.6,1365.2 1671.9,1369.0 1673.2,1365.0 1674.6,1357.0 1675.9,1357.4 1677.3,1353.0 1678.3,1353.1 1679.3,1350.0 1680.3,1355.7 1681.4,1356.0 1682.5,1356.3 1683.7,1355.4 1684.8,1356.0 1685.8,1358.1 1686.8,1361.0 1688.2,1357.7 1689.5,1364.0 1690.5,1367.1 1691.6,1369.0 1692.6,1366.4 1693.6,1361.0 1694.9,1363.1 1696.3,1364.0 1697.4,1361.1 1698.6,1357.4 1699.7,1357.0 1701.1,1358.5 1702.4,1364.0 1703.8,1367.3 1705.1,1373.0 1706.1,1366.0 1707.1,1358.0 1708.2,1361.0 1709.2,1362.0 1710.5,1368.0 1711.9,1347.5 1713.2,1351.4 1714.6,1357.0 1715.6,1347.0 1716.6,1338.0 1717.7,1338.9 1718.7,1345.0 1720.0,1334.0 1721.3,1327.5 1722.7,1319.0 1723.8,1325.9 1724.8,1330.0 1725.8,1328.4 1726.8,1322.0 1728.2,1316.6 1729.5,1314.0 1730.9,1308.0 1732.2,1305.8 1733.6,1305.0 1734.9,1304.1 1736.3,1300.0 1737.8,1301.6 1739.3,1300.5 1740.5,1299.5 1741.8,1299.5 1743.0,1297.0 1744.3,1303.4 1745.7,1309.5 1747.5,1290.0 1748.8,1290.1 1750.2,1293.0 1751.4,1290.7 1752.6,1287.3 1753.8,1286.0 1755.0,1287.9 1756.2,1283.4 1757.4,1282.0 1758.8,1277.2 1760.1,1273.0 1761.5,1274.7 1762.9,1272.0 1764.1,1269.7 1765.3,1268.7 1766.5,1268.0 1767.7,1262.3 1768.9,1260.6 1770.1,1259.0 1771.9,1246.0 1773.2,1246.2 1774.6,1252.0 1775.9,1250.0 1777.3,1239.0 1778.7,1234.7 1780.0,1232.0 1780.9,1217.0 1782.3,1217.6 1783.7,1217.0 1785.1,1215.6 1786.4,1214.0 1787.8,1224.8 1789.1,1228.0 1790.9,1214.0 1792.2,1211.3 1793.6,1208.0 1794.9,1204.5 1796.3,1203.0 1797.7,1200.4 1799.0,1197.0 1800.8,1212.0 1802.2,1206.5 1803.5,1201.0 1804.9,1200.0 1806.3,1196.0 1807.7,1183.2 1809.0,1174.0 1810.3,1184.3 1811.7,1192.0 1812.9,1192.1 1814.1,1192.3 1815.3,1190.0 1816.5,1187.8 1817.7,1186.9 1818.9,1187.0 1820.1,1186.5 1821.3,1181.2 1822.5,1183.0 1823.7,1182.4 1825.0,1178.6 1826.2,1174.0 1827.4,1171.8 1828.6,1177.3 1829.8,1179.0 1831.2,1178.4 1832.5,1177.5 1833.7,1179.3 1834.9,1180.7 1836.1,1183.0 1837.3,1185.0 1838.5,1182.6 1839.7,1187.0 1840.8,1185.3 1842.0,1187.9 1843.1,1188.9 1844.2,1188.0 1845.4,1189.1 1846.6,1190.3 1847.8,1187.0 1849.2,1188.6 1850.6,1185.0 1851.9,1189.9 1853.3,1192.0 1854.5,1193.3 1855.7,1196.3 1856.9,1196.0 1858.1,1198.9 1859.3,1202.4 1860.5,1203.0 1861.8,1202.5 1863.2,1210.0 1864.6,1214.6 1865.9,1219.0 1867.2,1216.4 1868.6,1214.0 1869.7,1216.8 1870.9,1214.1 1872.0,1219.0 1873.5,1221.6 1875.0,1225.0 1876.3,1222.9 1877.7,1215.5 1878.9,1216.8 1880.1,1214.2 1881.3,1219.0 1882.5,1218.6 1883.7,1220.1 1884.9,1219.0 1886.2,1226.4 1887.6,1228.0 1889.4,1239.0 1891.2,1250.0 1892.4,1255.2 1893.7,1260.9 1894.9,1264.0 1896.1,1264.5 1897.3,1266.3 1898.5,1268.0 1899.8,1271.0 1900.9,1272.5 1902.1,1272.0 1903.9,1286.0 1905.2,1293.0 1906.3,1299.7 1907.3,1305.6 1908.4,1306.0 1909.5,1310.2 1910.6,1319.2 1911.7,1321.0 1913.1,1328.9 1914.6,1331.6 1916.0,1336.5 1917.1,1326.1 1918.2,1317.0 1919.3,1311.0 1920.4,1304.0 1921.7,1309.3 1923.0,1315.0 1924.3,1324.5 1925.6,1329.1 1926.9,1334.0 1928.0,1332.1 1929.0,1324.6 1930.1,1321.0 1931.2,1319.9 1932.3,1325.6 1933.4,1328.0 1934.5,1318.8 1935.6,1315.8 1936.7,1310.5 1937.8,1309.5 1938.8,1309.7 1939.9,1304.0 1941.0,1298.9 1942.1,1296.3 1943.2,1290.9 1944.3,1287.0 1945.7,1294.1 1947.2,1301.2 1948.6,1308.0 1949.7,1304.4 1950.7,1296.6 1951.8,1291.0 1952.9,1289.1 1954.0,1288.3 1955.1,1287.0 1956.2,1282.5 1957.3,1280.8 1958.4,1280.0 1959.5,1273.5 1960.5,1273.9 1961.6,1269.0 1962.7,1264.6 1963.8,1262.5 1964.9,1261.0 1966.0,1261.7 1967.0,1255.3 1968.1,1256.0 1969.2,1253.5 1970.3,1253.3 1971.4,1252.0 1972.5,1250.7 1973.5,1246.3 1974.6,1245.0 1975.7,1238.1 1976.8,1234.5 1977.9,1234.8 1979.0,1233.1 1980.1,1228.0 1981.2,1226.3 1982.2,1221.5 1983.3,1220.9 1984.4,1218.1 1985.5,1217.0 1986.6,1217.8 1987.6,1224.5 1988.7,1221.5 1989.8,1225.9 1990.9,1235.8 1992.0,1241.0 1993.1,1237.9 1994.2,1230.9 1995.3,1230.0 1996.4,1230.7 1997.4,1230.3 1998.5,1232.0 1999.6,1239.5 2000.7,1240.3 2001.8,1243.0 2002.8,1235.4 2003.9,1228.0 2005.0,1229.4 2006.1,1224.7 2007.2,1224.0 2008.3,1226.1 2009.3,1230.6 2010.4,1232.0 2011.5,1235.8 2012.6,1231.9 2013.7,1234.5 2014.8,1228.2 2015.9,1215.0 2017.0,1205.1 2018.0,1200.0 2019.1,1201.3 2020.2,1198.0 2021.3,1202.1 2022.4,1201.8 2023.5,1202.0 2024.6,1202.1 2025.6,1208.9 2026.7,1211.0 2027.8,1206.2 2028.9,1199.9 2030.0,1198.0 2031.1,1191.6 2032.1,1189.1 2033.2,1182.5 2034.3,1179.3 2035.4,1176.0 2036.5,1166.1 2037.6,1154.0 2038.7,1145.3 2039.7,1135.0 2040.8,1129.7 2041.9,1128.0 2043.0,1131.2 2044.1,1132.4 2045.2,1135.0 2046.3,1130.2 2047.3,1129.5 2048.4,1126.0 2049.5,1120.3 2050.6,1117.0 2051.9,1108.0 2052.9,1103.0 2054.0,1087.0 2055.0,1068.6 2056.0,1046.5 2057.1,1033.7 2058.1,1026.0 2059.6,1015.0 2061.1,1005.5 2062.6,998.2 2064.2,993.0 2065.2,986.7 2066.3,981.0 2067.3,969.2 2068.3,954.0 2069.7,948.8 2071.0,948.9 2072.4,946.0 2073.4,930.5 2074.5,911.0 2076.0,893.4 2077.5,872.0 2079.1,857.0 2080.6,841.5 2081.8,822.7 2083.1,800.0 2084.3,773.6 2085.6,741.5 2086.7,732.9 2087.7,723.2 2088.8,709.0 2090.4,675.0 2091.7,671.9 2092.9,673.0 2094.1,663.6 2095.3,644.0 2096.4,634.0 2097.5,622.0 2098.6,611.0 2099.7,595.6 2100.7,588.9 2101.8,575.6"/>
</g>
<path d="M300.00 1620 v-16.67 M300.00 180 v16.67 M532.50 1620 v-16.67 M532.50 180 v16.67 M765.00 1620 v-16.67 M765.00 180 v16.67 M997.50 1620 v-16.67 M997.50 180 v16.67 M1230.00 1620 v-16.67 M1230.00 180 v16.67 M1462.50 1620 v-16.67 M1462.50 180 v16.67 M1695.00 1620 v-16.67 M1695.00 180 v16.67 M1927.50 1620 v-16.67 M1927.50 180 v16.67 M2160.00 1620 v-16.67 M2160.00 180 v16.67 M300 1620.00 h16.67 M2160 1620.00 h-16.67 M300 1260.00 h16.67 M2160 1260.00 h-16.67 M300 900.00 h16.67 M2160 900.00 h-16.67 M300 540.00 h16.67 M2160 540.00 h-16.67 M300 180.00 h16.67 M2160 180.00 h-16.67" stroke="#000" stroke-width="2.08" fill="none"/>
<rect x="300" y="180" width="1860" height="1440" fill="none" stroke="#000" stroke-width="4.17"/>
<text class="serif" transform="translate(297.5,1668) scale(0.965,1.07)" font-size="50" text-anchor="middle">8200</text>
<text class="serif" transform="translate(530.0,1668) scale(0.965,1.07)" font-size="50" text-anchor="middle">8400</text>
<text class="serif" transform="translate(762.5,1668) scale(0.965,1.07)" font-size="50" text-anchor="middle">8600</text>
<text class="serif" transform="translate(995.0,1668) scale(0.965,1.07)" font-size="50" text-anchor="middle">8800</text>
<text class="serif" transform="translate(1227.5,1668) scale(0.965,1.07)" font-size="50" text-anchor="middle">9000</text>
<text class="serif" transform="translate(1460.0,1668) scale(0.965,1.07)" font-size="50" text-anchor="middle">9200</text>
<text class="serif" transform="translate(1692.5,1668) scale(0.965,1.07)" font-size="50" text-anchor="middle">9400</text>
<text class="serif" transform="translate(1925.0,1668) scale(0.965,1.07)" font-size="50" text-anchor="middle">9600</text>
<text class="serif" transform="translate(2157.5,1668) scale(0.965,1.07)" font-size="50" text-anchor="middle">9800</text>
<text class="serif" transform="translate(283,1637.0) scale(0.98,1.07)" font-size="50" text-anchor="end">20</text>
<text class="serif" transform="translate(283,1277.0) scale(0.98,1.07)" font-size="50" text-anchor="end">25</text>
<text class="serif" transform="translate(283,917.0) scale(0.98,1.07)" font-size="50" text-anchor="end">30</text>
<text class="serif" transform="translate(283,557.0) scale(0.98,1.07)" font-size="50" text-anchor="end">35</text>
<text class="serif" transform="translate(283,197.0) scale(0.98,1.07)" font-size="50" text-anchor="end">40</text>
<text class="sans" transform="translate(1225.6,159) scale(0.985,1.045)" font-size="60" text-anchor="middle">Before</text>
<text class="sans" transform="translate(1226.4,1725) scale(0.979,1.033)" font-size="51" text-anchor="middle">MHz</text>
<g transform="translate(199,978) rotate(-90)" style="filter:grayscale(1)"><text class="serif" font-style="italic" font-size="50" transform="translate(-3.8,1.2) scale(1.26,1)">T</text><text class="serif" font-size="33" transform="translate(27.3,7.6) scale(1.18,1)">sys</text><text class="sans" font-size="50" x="90.7" y="1">(K)</text></g>
</svg></body></html>
